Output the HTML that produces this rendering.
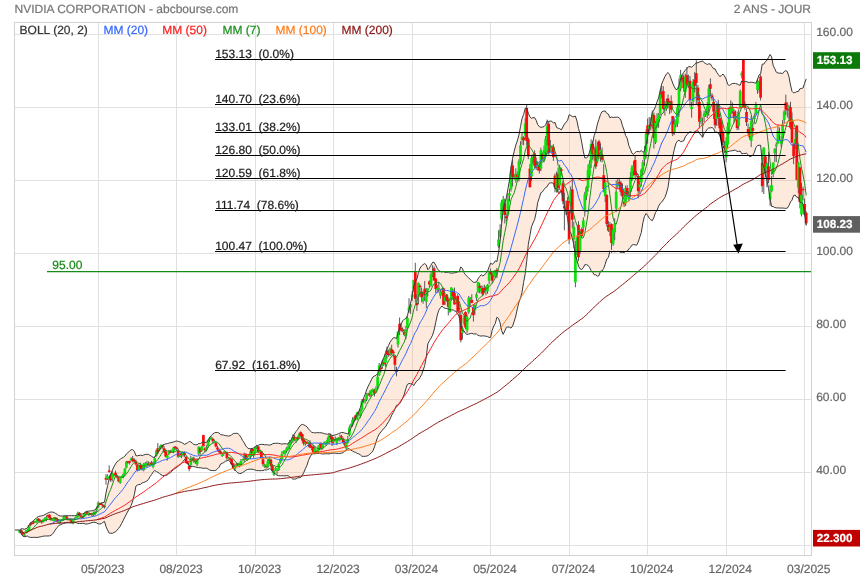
<!DOCTYPE html>
<html><head><meta charset="utf-8"><title>NVIDIA CORPORATION - abcbourse.com</title>
<style>html,body{margin:0;padding:0;background:#fff;overflow:hidden}svg text{stroke-width:0.22px;paint-order:stroke fill}body{width:860px;height:580px}</style>
</head><body>
<svg width="860" height="580" viewBox="0 0 860 580" style="display:block;will-change:transform;text-rendering:geometricPrecision;font-family:'Liberation Sans',sans-serif;font-size:12px">
<rect x="0" y="0" width="860" height="580" fill="#fff"/>
<g stroke="#e0e0e0" stroke-width="1" shape-rendering="crispEdges">
<line x1="15" x2="811" y1="34.5" y2="34.5"/>
<line x1="15" x2="811" y1="107.5" y2="107.5"/>
<line x1="15" x2="811" y1="180.5" y2="180.5"/>
<line x1="15" x2="811" y1="253.5" y2="253.5"/>
<line x1="15" x2="811" y1="326.5" y2="326.5"/>
<line x1="15" x2="811" y1="399.5" y2="399.5"/>
<line x1="15" x2="811" y1="472.5" y2="472.5"/>
<line x1="15" x2="811" y1="545.5" y2="545.5"/>
<line x1="98.5" x2="98.5" y1="23" y2="555"/>
<line x1="176.5" x2="176.5" y1="23" y2="555"/>
<line x1="255.5" x2="255.5" y1="23" y2="555"/>
<line x1="333.5" x2="333.5" y1="23" y2="555"/>
<line x1="412.5" x2="412.5" y1="23" y2="555"/>
<line x1="490.5" x2="490.5" y1="23" y2="555"/>
<line x1="569.5" x2="569.5" y1="23" y2="555"/>
<line x1="647.5" x2="647.5" y1="23" y2="555"/>
<line x1="726.5" x2="726.5" y1="23" y2="555"/>
<line x1="804.5" x2="804.5" y1="23" y2="555"/>
</g>
<rect x="14.5" y="22.5" width="797" height="533" fill="none" stroke="#d2d2d2" stroke-width="1" shape-rendering="crispEdges"/>
<path d="M19.7,530.0 L21.3,528.7 L22.8,528.8 L24.4,529.3 L26.0,528.6 L27.5,528.0 L29.1,524.9 L30.7,523.0 L32.3,521.6 L33.8,520.2 L35.4,519.0 L37.0,517.3 L38.5,516.5 L40.1,516.1 L41.7,515.9 L43.2,515.4 L44.8,514.7 L46.4,513.8 L48.0,513.0 L49.5,512.3 L51.1,512.0 L52.7,512.1 L54.2,512.5 L55.8,513.6 L57.4,514.5 L58.9,515.6 L60.5,515.9 L62.1,516.1 L63.7,516.0 L65.2,515.7 L66.8,515.7 L68.4,515.7 L69.9,515.7 L71.5,515.6 L73.1,515.7 L74.6,515.7 L76.2,515.5 L77.8,514.4 L79.4,514.2 L80.9,514.1 L82.5,514.0 L84.1,513.2 L85.6,512.1 L87.2,511.6 L88.8,511.1 L90.3,510.9 L91.9,510.8 L93.5,510.4 L95.1,509.8 L96.6,508.4 L98.2,505.8 L99.8,504.1 L101.3,502.9 L102.9,502.6 L104.5,502.2 L106.0,493.0 L107.6,485.6 L109.2,478.5 L110.7,474.9 L112.3,470.3 L113.9,466.9 L115.5,463.9 L117.0,461.7 L118.6,460.6 L120.2,459.2 L121.7,458.2 L123.3,457.4 L124.9,456.1 L126.4,454.0 L128.0,452.5 L129.6,451.1 L131.2,449.7 L132.7,449.7 L134.3,451.3 L135.9,455.7 L137.4,455.8 L139.0,455.4 L140.6,455.2 L142.1,455.5 L143.7,455.0 L145.3,454.5 L146.9,454.3 L148.4,454.4 L150.0,455.4 L151.6,456.3 L153.1,457.3 L154.7,457.4 L156.3,454.5 L157.8,452.8 L159.4,450.3 L161.0,447.2 L162.6,445.2 L164.1,444.3 L165.7,444.0 L167.3,443.6 L168.8,443.2 L170.4,442.7 L172.0,442.4 L173.5,442.0 L175.1,441.4 L176.7,441.0 L178.2,441.3 L179.8,441.9 L181.4,442.4 L183.0,443.3 L184.5,444.4 L186.1,443.6 L187.7,442.9 L189.2,441.4 L190.8,441.9 L192.4,443.3 L193.9,444.5 L195.5,444.8 L197.1,444.8 L198.7,443.6 L200.2,443.6 L201.8,442.7 L203.4,442.0 L204.9,442.4 L206.5,442.3 L208.1,440.5 L209.6,437.9 L211.2,435.6 L212.8,434.1 L214.4,432.9 L215.9,432.4 L217.5,432.5 L219.1,433.0 L220.6,434.6 L222.2,434.8 L223.8,435.1 L225.3,435.6 L226.9,435.8 L228.5,436.1 L230.1,435.8 L231.6,434.8 L233.2,433.7 L234.8,433.4 L236.3,433.3 L237.9,433.5 L239.5,435.1 L241.0,437.5 L242.6,440.5 L244.2,442.8 L245.8,445.9 L247.3,447.7 L248.9,448.7 L250.5,448.6 L252.0,448.5 L253.6,448.0 L255.2,446.9 L256.7,445.9 L258.3,445.3 L259.9,444.5 L261.4,444.4 L263.0,444.4 L264.6,444.8 L266.2,444.7 L267.7,444.8 L269.3,445.1 L270.9,444.9 L272.4,443.9 L274.0,443.3 L275.6,443.4 L277.1,443.1 L278.7,443.4 L280.3,443.7 L281.9,444.1 L283.4,443.8 L285.0,443.7 L286.6,443.9 L288.1,443.9 L289.7,441.7 L291.3,439.8 L292.8,436.4 L294.4,434.0 L296.0,431.5 L297.6,429.6 L299.1,427.1 L300.7,425.1 L302.3,424.4 L303.8,424.9 L305.4,425.7 L307.0,426.8 L308.5,428.9 L310.1,430.8 L311.7,432.3 L313.3,432.6 L314.8,432.9 L316.4,432.7 L318.0,432.7 L319.5,432.7 L321.1,432.8 L322.7,433.0 L324.2,433.7 L325.8,433.9 L327.4,434.3 L329.0,433.7 L330.5,434.4 L332.1,435.5 L333.7,435.3 L335.2,434.9 L336.8,434.4 L338.4,433.7 L339.9,433.1 L341.5,432.5 L343.1,432.5 L344.6,433.1 L346.2,433.3 L347.8,434.1 L349.4,431.5 L350.9,428.2 L352.5,424.6 L354.1,421.0 L355.6,418.2 L357.2,414.2 L358.8,411.2 L360.3,407.7 L361.9,402.6 L363.5,398.3 L365.1,394.4 L366.6,390.0 L368.2,386.1 L369.8,383.2 L371.3,379.9 L372.9,377.0 L374.5,376.0 L376.0,375.4 L377.6,373.4 L379.2,369.1 L380.8,365.5 L382.3,360.9 L383.9,357.4 L385.5,352.5 L387.0,348.8 L388.6,345.5 L390.2,341.9 L391.7,339.9 L393.3,337.8 L394.9,337.7 L396.5,338.6 L398.0,332.6 L399.6,327.6 L401.2,323.8 L402.7,320.8 L404.3,319.2 L405.9,318.5 L407.4,315.5 L409.0,309.5 L410.6,303.1 L412.2,295.8 L413.7,285.6 L415.3,281.6 L416.9,279.0 L418.4,272.7 L420.0,268.2 L421.6,265.9 L423.1,264.6 L424.7,263.6 L426.3,264.9 L427.8,269.8 L429.4,268.1 L431.0,265.1 L432.6,262.3 L434.1,262.3 L435.7,265.2 L437.3,268.5 L438.8,270.6 L440.4,271.4 L442.0,272.1 L443.5,271.4 L445.1,272.5 L446.7,272.4 L448.3,272.2 L449.8,273.0 L451.4,273.1 L453.0,273.1 L454.5,272.7 L456.1,272.7 L457.7,271.8 L459.2,271.7 L460.8,266.9 L462.4,268.5 L464.0,272.7 L465.5,274.7 L467.1,276.5 L468.7,277.9 L470.2,279.3 L471.8,280.7 L473.4,282.3 L474.9,282.3 L476.5,281.9 L478.1,278.7 L479.7,276.4 L481.2,274.8 L482.8,275.9 L484.4,275.0 L485.9,273.3 L487.5,271.4 L489.1,266.9 L490.6,263.1 L492.2,264.3 L493.8,263.1 L495.3,260.8 L496.9,261.6 L498.5,252.7 L500.1,241.4 L501.6,224.1 L503.2,209.9 L504.8,203.4 L506.3,198.1 L507.9,189.1 L509.5,179.9 L511.0,167.4 L512.6,158.2 L514.2,151.3 L515.8,145.1 L517.3,140.9 L518.9,135.1 L520.5,126.7 L522.0,118.6 L523.6,114.6 L525.2,108.3 L526.7,107.9 L528.3,113.2 L529.9,116.8 L531.5,118.4 L533.0,117.6 L534.6,117.7 L536.2,120.3 L537.7,124.6 L539.3,126.6 L540.9,127.3 L542.4,127.1 L544.0,126.6 L545.6,124.9 L547.2,120.9 L548.7,121.5 L550.3,121.0 L551.9,121.3 L553.4,123.1 L555.0,122.4 L556.6,127.5 L558.1,128.2 L559.7,128.7 L561.3,129.9 L562.9,127.0 L564.4,124.1 L566.0,122.2 L567.6,120.2 L569.1,114.8 L570.7,115.3 L572.3,116.5 L573.8,116.7 L575.4,116.1 L577.0,121.1 L578.5,128.6 L580.1,134.0 L581.7,142.1 L583.3,151.2 L584.8,157.9 L586.4,157.9 L588.0,156.6 L589.5,152.2 L591.1,146.6 L592.7,143.1 L594.2,135.5 L595.8,131.3 L597.4,124.0 L599.0,119.1 L600.5,114.5 L602.1,111.6 L603.7,111.2 L605.2,110.9 L606.8,113.4 L608.4,114.1 L609.9,117.8 L611.5,116.9 L613.1,117.5 L614.7,117.3 L616.2,117.2 L617.8,117.1 L619.4,118.1 L620.9,120.2 L622.5,125.8 L624.1,130.3 L625.6,135.5 L627.2,138.3 L628.8,145.5 L630.4,149.2 L631.9,153.1 L633.5,154.4 L635.1,152.6 L636.6,151.5 L638.2,151.4 L639.8,151.8 L641.3,150.5 L642.9,152.3 L644.5,151.0 L646.1,144.8 L647.6,137.1 L649.2,128.5 L650.8,121.3 L652.3,112.5 L653.9,110.1 L655.5,106.6 L657.0,101.9 L658.6,98.1 L660.2,90.9 L661.7,83.9 L663.3,80.2 L664.9,76.7 L666.5,73.8 L668.0,72.5 L669.6,74.7 L671.2,78.9 L672.7,83.0 L674.3,86.8 L675.9,89.6 L677.4,89.2 L679.0,85.5 L680.6,78.9 L682.2,74.7 L683.7,72.4 L685.3,70.2 L686.9,68.6 L688.4,66.7 L690.0,66.7 L691.6,67.3 L693.1,65.8 L694.7,64.4 L696.3,62.8 L697.9,62.8 L699.4,62.0 L701.0,61.6 L702.6,60.9 L704.1,62.7 L705.7,63.6 L707.3,64.5 L708.8,63.8 L710.4,64.0 L712.0,66.7 L713.6,68.8 L715.1,68.9 L716.7,72.3 L718.3,74.5 L719.8,76.6 L721.4,75.6 L723.0,74.0 L724.5,76.0 L726.1,79.0 L727.7,84.4 L729.2,85.5 L730.8,84.4 L732.4,83.5 L734.0,83.4 L735.5,83.5 L737.1,84.0 L738.7,84.8 L740.2,85.3 L741.8,80.9 L743.4,82.1 L744.9,81.6 L746.5,81.6 L748.1,82.3 L749.7,82.4 L751.2,82.2 L752.8,82.4 L754.4,82.8 L755.9,83.2 L757.5,79.3 L759.1,74.9 L760.6,73.9 L762.2,64.2 L763.8,64.1 L765.4,61.6 L766.9,60.4 L768.5,57.4 L770.1,54.5 L771.6,56.8 L773.2,65.5 L774.8,68.8 L776.3,72.2 L777.9,73.0 L779.5,73.1 L781.1,73.2 L782.6,73.6 L784.2,71.5 L785.8,70.7 L787.3,71.6 L788.9,76.5 L790.5,85.0 L792.0,91.3 L793.6,92.9 L795.2,92.5 L796.8,91.6 L798.3,91.6 L799.9,88.8 L801.5,88.5 L803.0,88.0 L804.6,83.2 L806.2,78.9 L806.2,225.5 L804.6,213.7 L803.0,203.7 L801.5,202.7 L799.9,202.1 L798.3,197.2 L796.8,197.3 L795.2,195.1 L793.6,195.5 L792.0,200.1 L790.5,201.9 L788.9,205.7 L787.3,208.1 L785.8,208.4 L784.2,208.2 L782.6,208.0 L781.1,208.1 L779.5,208.0 L777.9,207.9 L776.3,207.9 L774.8,207.5 L773.2,206.6 L771.6,206.3 L770.1,199.2 L768.5,188.5 L766.9,180.2 L765.4,174.3 L763.8,167.0 L762.2,162.9 L760.6,145.2 L759.1,145.3 L757.5,145.5 L755.9,147.5 L754.4,152.3 L752.8,155.4 L751.2,156.1 L749.7,156.7 L748.1,154.7 L746.5,153.2 L744.9,153.5 L743.4,153.5 L741.8,153.8 L740.2,151.1 L738.7,151.4 L737.1,151.4 L735.5,150.3 L734.0,150.2 L732.4,150.7 L730.8,150.9 L729.2,151.3 L727.7,151.6 L726.1,152.6 L724.5,150.1 L723.0,145.5 L721.4,140.2 L719.8,135.6 L718.3,133.2 L716.7,132.1 L715.1,132.2 L713.6,128.6 L712.0,127.5 L710.4,127.9 L708.8,127.9 L707.3,129.1 L705.7,131.5 L704.1,133.5 L702.6,137.4 L701.0,135.2 L699.4,133.2 L697.9,130.8 L696.3,130.9 L694.7,131.6 L693.1,132.6 L691.6,132.3 L690.0,131.6 L688.4,133.0 L686.9,134.8 L685.3,136.9 L683.7,140.9 L682.2,141.2 L680.6,141.7 L679.0,140.2 L677.4,141.2 L675.9,143.4 L674.3,149.3 L672.7,156.9 L671.2,164.6 L669.6,176.3 L668.0,187.3 L666.5,193.0 L664.9,197.5 L663.3,199.9 L661.7,202.1 L660.2,203.4 L658.6,206.2 L657.0,210.4 L655.5,212.6 L653.9,217.4 L652.3,220.7 L650.8,219.8 L649.2,218.3 L647.6,215.4 L646.1,213.4 L644.5,216.3 L642.9,222.7 L641.3,232.6 L639.8,237.0 L638.2,242.0 L636.6,245.2 L635.1,244.9 L633.5,244.5 L631.9,245.1 L630.4,247.4 L628.8,249.0 L627.2,251.4 L625.6,251.4 L624.1,252.7 L622.5,252.1 L620.9,252.5 L619.4,251.7 L617.8,251.4 L616.2,251.6 L614.7,251.8 L613.1,251.2 L611.5,252.5 L609.9,250.8 L608.4,257.6 L606.8,258.9 L605.2,264.3 L603.7,268.4 L602.1,271.0 L600.5,271.2 L599.0,275.6 L597.4,276.2 L595.8,274.8 L594.2,274.8 L592.7,272.3 L591.1,270.6 L589.5,267.3 L588.0,265.4 L586.4,264.7 L584.8,264.7 L583.3,267.7 L581.7,269.7 L580.1,268.8 L578.5,266.1 L577.0,260.5 L575.4,255.5 L573.8,244.8 L572.3,238.3 L570.7,232.5 L569.1,230.9 L567.6,218.0 L566.0,211.6 L564.4,205.8 L562.9,197.8 L561.3,190.5 L559.7,193.3 L558.1,192.7 L556.6,188.8 L555.0,188.5 L553.4,183.1 L551.9,182.9 L550.3,182.8 L548.7,183.7 L547.2,186.7 L545.6,187.5 L544.0,189.6 L542.4,191.8 L540.9,192.8 L539.3,197.8 L537.7,202.6 L536.2,212.3 L534.6,219.6 L533.0,223.0 L531.5,226.8 L529.9,235.5 L528.3,244.5 L526.7,261.3 L525.2,273.8 L523.6,282.4 L522.0,292.4 L520.5,298.0 L518.9,302.4 L517.3,308.9 L515.8,315.9 L514.2,321.3 L512.6,326.1 L511.0,328.1 L509.5,327.3 L507.9,326.9 L506.3,327.5 L504.8,330.9 L503.2,334.4 L501.6,330.6 L500.1,322.8 L498.5,318.4 L496.9,317.2 L495.3,323.5 L493.8,326.0 L492.2,330.3 L490.6,337.5 L489.1,337.3 L487.5,336.6 L485.9,336.2 L484.4,336.0 L482.8,335.8 L481.2,336.1 L479.7,335.8 L478.1,335.4 L476.5,334.0 L474.9,333.9 L473.4,333.9 L471.8,333.4 L470.2,333.6 L468.7,334.1 L467.1,334.5 L465.5,333.5 L464.0,330.8 L462.4,330.5 L460.8,326.7 L459.2,316.3 L457.7,314.1 L456.1,311.3 L454.5,310.9 L453.0,309.8 L451.4,309.9 L449.8,309.9 L448.3,308.9 L446.7,308.5 L445.1,308.3 L443.5,307.7 L442.0,306.0 L440.4,307.8 L438.8,310.2 L437.3,315.1 L435.7,322.6 L434.1,330.1 L432.6,335.1 L431.0,338.2 L429.4,340.8 L427.8,343.8 L426.3,357.0 L424.7,365.6 L423.1,370.4 L421.6,374.6 L420.0,377.4 L418.4,379.9 L416.9,380.8 L415.3,383.0 L413.7,385.6 L412.2,383.7 L410.6,383.8 L409.0,383.5 L407.4,384.4 L405.9,388.5 L404.3,394.2 L402.7,398.1 L401.2,401.0 L399.6,403.7 L398.0,405.0 L396.5,405.3 L394.9,409.0 L393.3,412.5 L391.7,415.1 L390.2,418.8 L388.6,421.7 L387.0,424.2 L385.5,426.9 L383.9,428.3 L382.3,430.3 L380.8,432.0 L379.2,434.2 L377.6,437.3 L376.0,441.9 L374.5,446.9 L372.9,450.9 L371.3,452.8 L369.8,454.2 L368.2,455.5 L366.6,456.1 L365.1,456.3 L363.5,456.4 L361.9,456.3 L360.3,454.8 L358.8,453.9 L357.2,453.4 L355.6,452.4 L354.1,452.0 L352.5,451.0 L350.9,450.2 L349.4,449.0 L347.8,448.5 L346.2,450.6 L344.6,451.3 L343.1,452.6 L341.5,453.1 L339.9,453.5 L338.4,453.4 L336.8,453.4 L335.2,453.2 L333.7,453.2 L332.1,453.2 L330.5,453.6 L329.0,453.9 L327.4,453.7 L325.8,453.8 L324.2,453.8 L322.7,454.0 L321.1,453.8 L319.5,453.3 L318.0,453.5 L316.4,453.5 L314.8,453.2 L313.3,453.7 L311.7,454.2 L310.1,456.9 L308.5,460.4 L307.0,465.2 L305.4,468.7 L303.8,472.4 L302.3,475.6 L300.7,477.4 L299.1,477.7 L297.6,477.9 L296.0,478.9 L294.4,479.1 L292.8,479.1 L291.3,477.8 L289.7,476.8 L288.1,475.7 L286.6,475.7 L285.0,475.8 L283.4,475.8 L281.9,475.7 L280.3,475.8 L278.7,475.7 L277.1,475.3 L275.6,474.0 L274.0,472.8 L272.4,471.1 L270.9,469.1 L269.3,468.7 L267.7,469.6 L266.2,470.0 L264.6,469.8 L263.0,470.6 L261.4,470.6 L259.9,470.7 L258.3,470.6 L256.7,470.6 L255.2,470.0 L253.6,469.5 L252.0,469.2 L250.5,469.2 L248.9,469.2 L247.3,469.6 L245.8,470.3 L244.2,471.6 L242.6,472.5 L241.0,473.4 L239.5,473.5 L237.9,472.9 L236.3,471.3 L234.8,469.7 L233.2,467.5 L231.6,464.1 L230.1,461.9 L228.5,460.2 L226.9,460.8 L225.3,461.3 L223.8,462.5 L222.2,463.3 L220.6,464.0 L219.1,467.2 L217.5,468.8 L215.9,470.3 L214.4,470.6 L212.8,470.5 L211.2,470.5 L209.6,469.9 L208.1,469.1 L206.5,468.2 L204.9,468.2 L203.4,468.3 L201.8,468.0 L200.2,467.7 L198.7,467.7 L197.1,467.4 L195.5,467.0 L193.9,466.6 L192.4,466.4 L190.8,466.5 L189.2,466.1 L187.7,462.8 L186.1,460.9 L184.5,459.5 L183.0,461.5 L181.4,463.5 L179.8,464.8 L178.2,466.3 L176.7,467.4 L175.1,468.5 L173.5,469.4 L172.0,471.2 L170.4,472.7 L168.8,473.5 L167.3,474.9 L165.7,475.4 L164.1,475.6 L162.6,475.6 L161.0,474.7 L159.4,473.4 L157.8,472.3 L156.3,471.5 L154.7,470.4 L153.1,472.1 L151.6,474.5 L150.0,476.7 L148.4,479.5 L146.9,480.9 L145.3,481.8 L143.7,482.5 L142.1,482.9 L140.6,484.3 L139.0,484.5 L137.4,485.1 L135.9,486.2 L134.3,494.8 L132.7,500.9 L131.2,505.3 L129.6,508.5 L128.0,511.0 L126.4,514.1 L124.9,517.0 L123.3,520.2 L121.7,523.4 L120.2,526.2 L118.6,528.3 L117.0,530.4 L115.5,531.7 L113.9,532.5 L112.3,533.4 L110.7,533.2 L109.2,533.1 L107.6,530.1 L106.0,526.7 L104.5,521.4 L102.9,522.4 L101.3,523.7 L99.8,524.0 L98.2,523.8 L96.6,522.9 L95.1,522.3 L93.5,522.3 L91.9,522.6 L90.3,523.1 L88.8,523.6 L87.2,524.0 L85.6,524.0 L84.1,523.5 L82.5,523.3 L80.9,523.5 L79.4,523.5 L77.8,523.4 L76.2,522.7 L74.6,522.6 L73.1,522.7 L71.5,523.0 L69.9,522.8 L68.4,522.9 L66.8,522.9 L65.2,523.1 L63.7,523.4 L62.1,524.0 L60.5,524.7 L58.9,525.4 L57.4,527.3 L55.8,529.1 L54.2,531.8 L52.7,533.8 L51.1,535.2 L49.5,535.9 L48.0,535.9 L46.4,536.0 L44.8,536.0 L43.2,536.2 L41.7,536.5 L40.1,536.9 L38.5,537.2 L37.0,537.5 L35.4,537.3 L33.8,537.4 L32.3,537.4 L30.7,537.4 L29.1,537.2 L27.5,536.1 L26.0,536.3 L24.4,536.7 L22.8,536.1 L21.3,534.1 L19.7,530.0Z" fill="rgb(250,170,120)" fill-opacity="0.25" stroke="none"/>
<path d="M19.7,530.0V533.3" stroke="#484848" stroke-width="0.9"/><path d="M19.7,530.0V532.9" stroke="#0ae40a" stroke-width="2.7"/>
<path d="M21.3,529.2V533.3" stroke="#484848" stroke-width="0.9"/><path d="M21.3,530.3V532.7" stroke="#fa0a0a" stroke-width="2.7"/>
<path d="M22.8,531.8V535.4" stroke="#484848" stroke-width="0.9"/><path d="M22.8,532.9V534.5" stroke="#fa0a0a" stroke-width="2.7"/>
<path d="M24.4,532.9V536.9" stroke="#484848" stroke-width="0.9"/><path d="M24.4,534.3V535.7" stroke="#0ae40a" stroke-width="2.7"/>
<path d="M26.0,529.6V533.6" stroke="#484848" stroke-width="0.9"/><path d="M26.0,530.5V532.9" stroke="#0ae40a" stroke-width="2.7"/>
<path d="M27.5,529.2V532.5" stroke="#484848" stroke-width="0.9"/><path d="M27.5,529.9V531.8" stroke="#0ae40a" stroke-width="2.7"/>
<path d="M29.1,524.9V531.1" stroke="#484848" stroke-width="0.9"/><path d="M29.1,525.1V530.7" stroke="#0ae40a" stroke-width="2.7"/>
<path d="M30.7,521.9V526.0" stroke="#484848" stroke-width="0.9"/><path d="M30.7,523.4V524.8" stroke="#fa0a0a" stroke-width="2.7"/>
<path d="M32.3,522.4V524.1" stroke="#484848" stroke-width="0.9"/><path d="M32.3,522.7V524.1" stroke="#fa0a0a" stroke-width="2.7"/>
<path d="M33.8,520.7V524.1" stroke="#484848" stroke-width="0.9"/><path d="M33.8,521.0V522.7" stroke="#fa0a0a" stroke-width="2.7"/>
<path d="M35.4,521.0V522.5" stroke="#484848" stroke-width="0.9"/><path d="M35.4,521.2V522.6" stroke="#0ae40a" stroke-width="2.7"/>
<path d="M37.0,518.6V523.3" stroke="#484848" stroke-width="0.9"/><path d="M37.0,519.1V522.0" stroke="#0ae40a" stroke-width="2.7"/>
<path d="M38.5,518.2V521.5" stroke="#484848" stroke-width="0.9"/><path d="M38.5,518.6V520.6" stroke="#fa0a0a" stroke-width="2.7"/>
<path d="M40.1,519.1V521.9" stroke="#484848" stroke-width="0.9"/><path d="M40.1,520.3V521.7" stroke="#fa0a0a" stroke-width="2.7"/>
<path d="M41.7,519.9V523.8" stroke="#484848" stroke-width="0.9"/><path d="M41.7,521.0V522.4" stroke="#fa0a0a" stroke-width="2.7"/>
<path d="M43.2,518.8V522.6" stroke="#484848" stroke-width="0.9"/><path d="M43.2,519.8V522.1" stroke="#0ae40a" stroke-width="2.7"/>
<path d="M44.8,517.3V521.0" stroke="#484848" stroke-width="0.9"/><path d="M44.8,518.4V520.5" stroke="#0ae40a" stroke-width="2.7"/>
<path d="M46.4,515.7V521.3" stroke="#484848" stroke-width="0.9"/><path d="M46.4,516.9V519.9" stroke="#0ae40a" stroke-width="2.7"/>
<path d="M48.0,514.7V516.9" stroke="#484848" stroke-width="0.9"/><path d="M48.0,515.0V516.4" stroke="#fa0a0a" stroke-width="2.7"/>
<path d="M49.5,514.2V520.0" stroke="#484848" stroke-width="0.9"/><path d="M49.5,514.8V518.1" stroke="#fa0a0a" stroke-width="2.7"/>
<path d="M51.1,517.2V520.6" stroke="#484848" stroke-width="0.9"/><path d="M51.1,517.9V520.2" stroke="#fa0a0a" stroke-width="2.7"/>
<path d="M52.7,519.2V520.7" stroke="#484848" stroke-width="0.9"/><path d="M52.7,519.2V520.6" stroke="#0ae40a" stroke-width="2.7"/>
<path d="M54.2,517.0V522.1" stroke="#484848" stroke-width="0.9"/><path d="M54.2,517.6V520.9" stroke="#0ae40a" stroke-width="2.7"/>
<path d="M55.8,517.2V520.8" stroke="#484848" stroke-width="0.9"/><path d="M55.8,517.7V519.1" stroke="#fa0a0a" stroke-width="2.7"/>
<path d="M57.4,517.8V522.8" stroke="#484848" stroke-width="0.9"/><path d="M57.4,519.2V521.6" stroke="#fa0a0a" stroke-width="2.7"/>
<path d="M58.9,521.2V523.7" stroke="#484848" stroke-width="0.9"/><path d="M58.9,521.5V522.9" stroke="#0ae40a" stroke-width="2.7"/>
<path d="M60.5,520.1V523.3" stroke="#484848" stroke-width="0.9"/><path d="M60.5,520.2V521.6" stroke="#0ae40a" stroke-width="2.7"/>
<path d="M62.1,519.2V521.1" stroke="#484848" stroke-width="0.9"/><path d="M62.1,519.3V520.7" stroke="#0ae40a" stroke-width="2.7"/>
<path d="M63.7,515.7V520.8" stroke="#484848" stroke-width="0.9"/><path d="M63.7,517.3V519.9" stroke="#0ae40a" stroke-width="2.7"/>
<path d="M65.2,515.9V517.6" stroke="#484848" stroke-width="0.9"/><path d="M65.2,515.9V517.3" stroke="#0ae40a" stroke-width="2.7"/>
<path d="M66.8,515.4V520.2" stroke="#484848" stroke-width="0.9"/><path d="M66.8,516.6V519.4" stroke="#fa0a0a" stroke-width="2.7"/>
<path d="M68.4,519.0V520.2" stroke="#484848" stroke-width="0.9"/><path d="M68.4,518.9V520.3" stroke="#0ae40a" stroke-width="2.7"/>
<path d="M69.9,518.8V520.7" stroke="#484848" stroke-width="0.9"/><path d="M69.9,518.7V520.1" stroke="#fa0a0a" stroke-width="2.7"/>
<path d="M71.5,518.8V523.1" stroke="#484848" stroke-width="0.9"/><path d="M71.5,519.3V522.5" stroke="#fa0a0a" stroke-width="2.7"/>
<path d="M73.1,519.3V524.4" stroke="#484848" stroke-width="0.9"/><path d="M73.1,519.9V523.3" stroke="#0ae40a" stroke-width="2.7"/>
<path d="M74.6,517.6V520.1" stroke="#484848" stroke-width="0.9"/><path d="M74.6,518.6V520.0" stroke="#0ae40a" stroke-width="2.7"/>
<path d="M76.2,516.4V518.3" stroke="#484848" stroke-width="0.9"/><path d="M76.2,516.6V518.0" stroke="#0ae40a" stroke-width="2.7"/>
<path d="M77.8,511.6V517.5" stroke="#484848" stroke-width="0.9"/><path d="M77.8,512.8V517.0" stroke="#0ae40a" stroke-width="2.7"/>
<path d="M79.4,512.1V516.4" stroke="#484848" stroke-width="0.9"/><path d="M79.4,512.8V515.3" stroke="#fa0a0a" stroke-width="2.7"/>
<path d="M80.9,514.8V517.1" stroke="#484848" stroke-width="0.9"/><path d="M80.9,515.4V516.8" stroke="#fa0a0a" stroke-width="2.7"/>
<path d="M82.5,515.9V518.2" stroke="#484848" stroke-width="0.9"/><path d="M82.5,516.5V517.9" stroke="#fa0a0a" stroke-width="2.7"/>
<path d="M84.1,512.9V517.3" stroke="#484848" stroke-width="0.9"/><path d="M84.1,513.6V516.7" stroke="#0ae40a" stroke-width="2.7"/>
<path d="M85.6,511.4V515.4" stroke="#484848" stroke-width="0.9"/><path d="M85.6,511.9V514.1" stroke="#0ae40a" stroke-width="2.7"/>
<path d="M87.2,510.5V514.5" stroke="#484848" stroke-width="0.9"/><path d="M87.2,512.2V513.9" stroke="#fa0a0a" stroke-width="2.7"/>
<path d="M88.8,512.2V515.9" stroke="#484848" stroke-width="0.9"/><path d="M88.8,512.9V514.6" stroke="#0ae40a" stroke-width="2.7"/>
<path d="M90.3,513.1V514.9" stroke="#484848" stroke-width="0.9"/><path d="M90.3,513.1V514.5" stroke="#fa0a0a" stroke-width="2.7"/>
<path d="M91.9,512.8V515.8" stroke="#484848" stroke-width="0.9"/><path d="M91.9,513.9V515.3" stroke="#fa0a0a" stroke-width="2.7"/>
<path d="M93.5,511.6V516.4" stroke="#484848" stroke-width="0.9"/><path d="M93.5,512.7V514.9" stroke="#0ae40a" stroke-width="2.7"/>
<path d="M95.1,510.8V515.3" stroke="#484848" stroke-width="0.9"/><path d="M95.1,511.7V514.2" stroke="#0ae40a" stroke-width="2.7"/>
<path d="M96.6,506.4V511.9" stroke="#484848" stroke-width="0.9"/><path d="M96.6,508.1V510.4" stroke="#0ae40a" stroke-width="2.7"/>
<path d="M98.2,501.4V508.1" stroke="#484848" stroke-width="0.9"/><path d="M98.2,502.7V507.3" stroke="#0ae40a" stroke-width="2.7"/>
<path d="M99.8,502.6V504.7" stroke="#484848" stroke-width="0.9"/><path d="M99.8,503.2V504.6" stroke="#fa0a0a" stroke-width="2.7"/>
<path d="M101.3,502.9V505.1" stroke="#484848" stroke-width="0.9"/><path d="M101.3,503.5V504.9" stroke="#fa0a0a" stroke-width="2.7"/>
<path d="M102.9,503.8V507.1" stroke="#484848" stroke-width="0.9"/><path d="M102.9,505.0V506.4" stroke="#fa0a0a" stroke-width="2.7"/>
<path d="M104.5,505.5V508.5" stroke="#484848" stroke-width="0.9"/><path d="M104.5,505.8V507.2" stroke="#fa0a0a" stroke-width="2.7"/>
<path d="M106.0,474.1V484.7" stroke="#484848" stroke-width="0.9"/><path d="M106.0,477.8V479.7" stroke="#fa0a0a" stroke-width="2.7"/>
<path d="M107.6,474.3V480.0" stroke="#484848" stroke-width="0.9"/><path d="M107.6,476.1V478.9" stroke="#0ae40a" stroke-width="2.7"/>
<path d="M109.2,465.4V472.7" stroke="#484848" stroke-width="0.9"/><path d="M109.2,470.5V471.9" stroke="#fa0a0a" stroke-width="2.7"/>
<path d="M110.7,473.2V481.9" stroke="#484848" stroke-width="0.9"/><path d="M110.7,474.7V480.2" stroke="#fa0a0a" stroke-width="2.7"/>
<path d="M112.3,470.6V481.4" stroke="#484848" stroke-width="0.9"/><path d="M112.3,473.1V478.9" stroke="#0ae40a" stroke-width="2.7"/>
<path d="M113.9,473.7V476.4" stroke="#484848" stroke-width="0.9"/><path d="M113.9,474.5V475.9" stroke="#0ae40a" stroke-width="2.7"/>
<path d="M115.5,470.6V476.8" stroke="#484848" stroke-width="0.9"/><path d="M115.5,472.7V475.3" stroke="#fa0a0a" stroke-width="2.7"/>
<path d="M117.0,474.6V478.4" stroke="#484848" stroke-width="0.9"/><path d="M117.0,476.1V477.5" stroke="#fa0a0a" stroke-width="2.7"/>
<path d="M118.6,476.8V482.1" stroke="#484848" stroke-width="0.9"/><path d="M118.6,477.6V481.5" stroke="#fa0a0a" stroke-width="2.7"/>
<path d="M120.2,477.0V483.9" stroke="#484848" stroke-width="0.9"/><path d="M120.2,477.7V483.0" stroke="#0ae40a" stroke-width="2.7"/>
<path d="M121.7,475.8V478.2" stroke="#484848" stroke-width="0.9"/><path d="M121.7,476.6V478.0" stroke="#0ae40a" stroke-width="2.7"/>
<path d="M123.3,473.2V478.4" stroke="#484848" stroke-width="0.9"/><path d="M123.3,474.2V477.0" stroke="#0ae40a" stroke-width="2.7"/>
<path d="M124.9,467.9V474.8" stroke="#484848" stroke-width="0.9"/><path d="M124.9,468.6V474.1" stroke="#0ae40a" stroke-width="2.7"/>
<path d="M126.4,460.9V468.3" stroke="#484848" stroke-width="0.9"/><path d="M126.4,461.4V467.7" stroke="#0ae40a" stroke-width="2.7"/>
<path d="M128.0,460.8V463.7" stroke="#484848" stroke-width="0.9"/><path d="M128.0,461.3V462.7" stroke="#fa0a0a" stroke-width="2.7"/>
<path d="M129.6,460.7V464.6" stroke="#484848" stroke-width="0.9"/><path d="M129.6,461.2V462.6" stroke="#fa0a0a" stroke-width="2.7"/>
<path d="M131.2,457.3V461.0" stroke="#484848" stroke-width="0.9"/><path d="M131.2,458.4V460.2" stroke="#0ae40a" stroke-width="2.7"/>
<path d="M132.7,456.0V462.2" stroke="#484848" stroke-width="0.9"/><path d="M132.7,458.6V461.2" stroke="#fa0a0a" stroke-width="2.7"/>
<path d="M134.3,458.4V462.4" stroke="#484848" stroke-width="0.9"/><path d="M134.3,460.1V461.5" stroke="#fa0a0a" stroke-width="2.7"/>
<path d="M135.9,459.4V465.5" stroke="#484848" stroke-width="0.9"/><path d="M135.9,461.4V464.3" stroke="#fa0a0a" stroke-width="2.7"/>
<path d="M137.4,463.8V471.5" stroke="#484848" stroke-width="0.9"/><path d="M137.4,464.7V470.0" stroke="#fa0a0a" stroke-width="2.7"/>
<path d="M139.0,464.3V471.0" stroke="#484848" stroke-width="0.9"/><path d="M139.0,465.4V470.0" stroke="#0ae40a" stroke-width="2.7"/>
<path d="M140.6,462.7V469.1" stroke="#484848" stroke-width="0.9"/><path d="M140.6,465.0V468.2" stroke="#fa0a0a" stroke-width="2.7"/>
<path d="M142.1,465.7V470.5" stroke="#484848" stroke-width="0.9"/><path d="M142.1,466.3V469.3" stroke="#fa0a0a" stroke-width="2.7"/>
<path d="M143.7,462.9V471.3" stroke="#484848" stroke-width="0.9"/><path d="M143.7,463.9V470.1" stroke="#0ae40a" stroke-width="2.7"/>
<path d="M145.3,462.0V465.9" stroke="#484848" stroke-width="0.9"/><path d="M145.3,463.3V464.7" stroke="#0ae40a" stroke-width="2.7"/>
<path d="M146.9,460.9V466.0" stroke="#484848" stroke-width="0.9"/><path d="M146.9,463.5V464.9" stroke="#0ae40a" stroke-width="2.7"/>
<path d="M148.4,461.3V465.1" stroke="#484848" stroke-width="0.9"/><path d="M148.4,463.6V465.0" stroke="#fa0a0a" stroke-width="2.7"/>
<path d="M150.0,461.9V465.4" stroke="#484848" stroke-width="0.9"/><path d="M150.0,463.2V464.9" stroke="#0ae40a" stroke-width="2.7"/>
<path d="M151.6,460.9V465.1" stroke="#484848" stroke-width="0.9"/><path d="M151.6,462.5V464.3" stroke="#fa0a0a" stroke-width="2.7"/>
<path d="M153.1,461.7V468.3" stroke="#484848" stroke-width="0.9"/><path d="M153.1,463.5V466.8" stroke="#0ae40a" stroke-width="2.7"/>
<path d="M154.7,456.4V464.6" stroke="#484848" stroke-width="0.9"/><path d="M154.7,458.1V464.1" stroke="#0ae40a" stroke-width="2.7"/>
<path d="M156.3,449.7V456.6" stroke="#484848" stroke-width="0.9"/><path d="M156.3,450.5V455.9" stroke="#0ae40a" stroke-width="2.7"/>
<path d="M157.8,443.1V454.1" stroke="#484848" stroke-width="0.9"/><path d="M157.8,448.2V452.3" stroke="#fa0a0a" stroke-width="2.7"/>
<path d="M159.4,446.2V450.9" stroke="#484848" stroke-width="0.9"/><path d="M159.4,448.5V449.9" stroke="#0ae40a" stroke-width="2.7"/>
<path d="M161.0,444.2V449.2" stroke="#484848" stroke-width="0.9"/><path d="M161.0,445.0V448.2" stroke="#0ae40a" stroke-width="2.7"/>
<path d="M162.6,444.8V448.6" stroke="#484848" stroke-width="0.9"/><path d="M162.6,445.2V446.6" stroke="#fa0a0a" stroke-width="2.7"/>
<path d="M164.1,446.1V453.1" stroke="#484848" stroke-width="0.9"/><path d="M164.1,448.3V452.2" stroke="#fa0a0a" stroke-width="2.7"/>
<path d="M165.7,449.4V457.4" stroke="#484848" stroke-width="0.9"/><path d="M165.7,451.4V456.6" stroke="#fa0a0a" stroke-width="2.7"/>
<path d="M167.3,454.3V460.6" stroke="#484848" stroke-width="0.9"/><path d="M167.3,455.5V457.8" stroke="#0ae40a" stroke-width="2.7"/>
<path d="M168.8,450.3V455.1" stroke="#484848" stroke-width="0.9"/><path d="M168.8,451.6V454.4" stroke="#0ae40a" stroke-width="2.7"/>
<path d="M170.4,449.8V453.0" stroke="#484848" stroke-width="0.9"/><path d="M170.4,451.3V452.7" stroke="#fa0a0a" stroke-width="2.7"/>
<path d="M172.0,449.4V452.4" stroke="#484848" stroke-width="0.9"/><path d="M172.0,450.5V451.9" stroke="#0ae40a" stroke-width="2.7"/>
<path d="M173.5,446.9V453.2" stroke="#484848" stroke-width="0.9"/><path d="M173.5,447.7V451.2" stroke="#0ae40a" stroke-width="2.7"/>
<path d="M175.1,445.9V450.0" stroke="#484848" stroke-width="0.9"/><path d="M175.1,446.6V448.0" stroke="#fa0a0a" stroke-width="2.7"/>
<path d="M176.7,447.1V450.5" stroke="#484848" stroke-width="0.9"/><path d="M176.7,447.5V448.9" stroke="#fa0a0a" stroke-width="2.7"/>
<path d="M178.2,448.5V457.9" stroke="#484848" stroke-width="0.9"/><path d="M178.2,450.3V456.7" stroke="#fa0a0a" stroke-width="2.7"/>
<path d="M179.8,454.4V457.2" stroke="#484848" stroke-width="0.9"/><path d="M179.8,455.5V456.9" stroke="#0ae40a" stroke-width="2.7"/>
<path d="M181.4,452.3V458.3" stroke="#484848" stroke-width="0.9"/><path d="M181.4,453.0V455.2" stroke="#fa0a0a" stroke-width="2.7"/>
<path d="M183.0,451.9V456.7" stroke="#484848" stroke-width="0.9"/><path d="M183.0,452.5V455.3" stroke="#0ae40a" stroke-width="2.7"/>
<path d="M184.5,451.7V456.9" stroke="#484848" stroke-width="0.9"/><path d="M184.5,452.9V455.3" stroke="#fa0a0a" stroke-width="2.7"/>
<path d="M186.1,456.1V463.6" stroke="#484848" stroke-width="0.9"/><path d="M186.1,456.8V463.0" stroke="#fa0a0a" stroke-width="2.7"/>
<path d="M187.7,462.2V464.6" stroke="#484848" stroke-width="0.9"/><path d="M187.7,462.4V463.8" stroke="#fa0a0a" stroke-width="2.7"/>
<path d="M189.2,465.0V471.2" stroke="#484848" stroke-width="0.9"/><path d="M189.2,466.1V469.2" stroke="#fa0a0a" stroke-width="2.7"/>
<path d="M190.8,455.7V467.3" stroke="#484848" stroke-width="0.9"/><path d="M190.8,458.6V465.0" stroke="#0ae40a" stroke-width="2.7"/>
<path d="M192.4,457.4V460.5" stroke="#484848" stroke-width="0.9"/><path d="M192.4,457.6V459.0" stroke="#0ae40a" stroke-width="2.7"/>
<path d="M193.9,456.7V463.2" stroke="#484848" stroke-width="0.9"/><path d="M193.9,458.3V459.7" stroke="#fa0a0a" stroke-width="2.7"/>
<path d="M195.5,459.3V463.9" stroke="#484848" stroke-width="0.9"/><path d="M195.5,460.1V462.3" stroke="#0ae40a" stroke-width="2.7"/>
<path d="M197.1,458.1V466.2" stroke="#484848" stroke-width="0.9"/><path d="M197.1,460.3V464.5" stroke="#0ae40a" stroke-width="2.7"/>
<path d="M198.7,446.2V455.2" stroke="#484848" stroke-width="0.9"/><path d="M198.7,446.9V453.7" stroke="#0ae40a" stroke-width="2.7"/>
<path d="M200.2,447.4V454.7" stroke="#484848" stroke-width="0.9"/><path d="M200.2,448.2V451.6" stroke="#fa0a0a" stroke-width="2.7"/>
<path d="M201.8,445.7V452.0" stroke="#484848" stroke-width="0.9"/><path d="M201.8,446.3V450.5" stroke="#0ae40a" stroke-width="2.7"/>
<path d="M203.4,434.8V446.4" stroke="#484848" stroke-width="0.9"/><path d="M203.4,435.1V446.2" stroke="#fa0a0a" stroke-width="2.7"/>
<path d="M204.9,447.3V452.7" stroke="#484848" stroke-width="0.9"/><path d="M204.9,448.3V450.3" stroke="#fa0a0a" stroke-width="2.7"/>
<path d="M206.5,445.2V451.5" stroke="#484848" stroke-width="0.9"/><path d="M206.5,447.3V450.1" stroke="#0ae40a" stroke-width="2.7"/>
<path d="M208.1,439.2V447.7" stroke="#484848" stroke-width="0.9"/><path d="M208.1,440.3V446.2" stroke="#0ae40a" stroke-width="2.7"/>
<path d="M209.6,436.9V442.2" stroke="#484848" stroke-width="0.9"/><path d="M209.6,438.4V439.8" stroke="#0ae40a" stroke-width="2.7"/>
<path d="M211.2,436.5V439.3" stroke="#484848" stroke-width="0.9"/><path d="M211.2,437.7V439.1" stroke="#0ae40a" stroke-width="2.7"/>
<path d="M212.8,437.5V443.5" stroke="#484848" stroke-width="0.9"/><path d="M212.8,438.8V441.2" stroke="#fa0a0a" stroke-width="2.7"/>
<path d="M214.4,439.6V442.4" stroke="#484848" stroke-width="0.9"/><path d="M214.4,440.8V442.2" stroke="#0ae40a" stroke-width="2.7"/>
<path d="M215.9,441.7V447.5" stroke="#484848" stroke-width="0.9"/><path d="M215.9,443.0V446.5" stroke="#fa0a0a" stroke-width="2.7"/>
<path d="M217.5,446.0V451.3" stroke="#484848" stroke-width="0.9"/><path d="M217.5,447.6V449.5" stroke="#fa0a0a" stroke-width="2.7"/>
<path d="M219.1,448.8V452.9" stroke="#484848" stroke-width="0.9"/><path d="M219.1,450.0V452.0" stroke="#fa0a0a" stroke-width="2.7"/>
<path d="M220.6,450.5V454.4" stroke="#484848" stroke-width="0.9"/><path d="M220.6,451.5V453.4" stroke="#fa0a0a" stroke-width="2.7"/>
<path d="M222.2,453.4V457.0" stroke="#484848" stroke-width="0.9"/><path d="M222.2,454.5V456.1" stroke="#0ae40a" stroke-width="2.7"/>
<path d="M223.8,451.3V455.5" stroke="#484848" stroke-width="0.9"/><path d="M223.8,452.1V453.5" stroke="#0ae40a" stroke-width="2.7"/>
<path d="M225.3,451.3V453.9" stroke="#484848" stroke-width="0.9"/><path d="M225.3,451.6V453.0" stroke="#0ae40a" stroke-width="2.7"/>
<path d="M226.9,451.6V459.9" stroke="#484848" stroke-width="0.9"/><path d="M226.9,452.9V458.1" stroke="#fa0a0a" stroke-width="2.7"/>
<path d="M228.5,457.3V459.2" stroke="#484848" stroke-width="0.9"/><path d="M228.5,457.4V458.8" stroke="#0ae40a" stroke-width="2.7"/>
<path d="M230.1,457.0V460.6" stroke="#484848" stroke-width="0.9"/><path d="M230.1,458.3V459.7" stroke="#fa0a0a" stroke-width="2.7"/>
<path d="M231.6,458.5V464.8" stroke="#484848" stroke-width="0.9"/><path d="M231.6,459.1V464.1" stroke="#fa0a0a" stroke-width="2.7"/>
<path d="M233.2,462.8V469.2" stroke="#484848" stroke-width="0.9"/><path d="M233.2,463.4V468.6" stroke="#fa0a0a" stroke-width="2.7"/>
<path d="M234.8,464.7V471.0" stroke="#484848" stroke-width="0.9"/><path d="M234.8,466.4V469.3" stroke="#0ae40a" stroke-width="2.7"/>
<path d="M236.3,462.7V466.9" stroke="#484848" stroke-width="0.9"/><path d="M236.3,464.2V465.8" stroke="#0ae40a" stroke-width="2.7"/>
<path d="M237.9,462.8V466.5" stroke="#484848" stroke-width="0.9"/><path d="M237.9,463.7V465.3" stroke="#fa0a0a" stroke-width="2.7"/>
<path d="M239.5,462.7V467.4" stroke="#484848" stroke-width="0.9"/><path d="M239.5,463.3V466.1" stroke="#0ae40a" stroke-width="2.7"/>
<path d="M241.0,459.0V466.3" stroke="#484848" stroke-width="0.9"/><path d="M241.0,461.0V465.0" stroke="#0ae40a" stroke-width="2.7"/>
<path d="M242.6,458.9V460.5" stroke="#484848" stroke-width="0.9"/><path d="M242.6,459.0V460.4" stroke="#0ae40a" stroke-width="2.7"/>
<path d="M244.2,452.6V461.9" stroke="#484848" stroke-width="0.9"/><path d="M244.2,454.9V459.3" stroke="#0ae40a" stroke-width="2.7"/>
<path d="M245.8,453.3V460.2" stroke="#484848" stroke-width="0.9"/><path d="M245.8,454.2V459.5" stroke="#fa0a0a" stroke-width="2.7"/>
<path d="M247.3,455.6V460.6" stroke="#484848" stroke-width="0.9"/><path d="M247.3,457.6V459.8" stroke="#0ae40a" stroke-width="2.7"/>
<path d="M248.9,454.5V457.1" stroke="#484848" stroke-width="0.9"/><path d="M248.9,455.0V456.4" stroke="#0ae40a" stroke-width="2.7"/>
<path d="M250.5,449.3V459.0" stroke="#484848" stroke-width="0.9"/><path d="M250.5,451.3V456.3" stroke="#0ae40a" stroke-width="2.7"/>
<path d="M252.0,448.1V454.9" stroke="#484848" stroke-width="0.9"/><path d="M252.0,448.9V453.1" stroke="#fa0a0a" stroke-width="2.7"/>
<path d="M253.6,449.1V457.9" stroke="#484848" stroke-width="0.9"/><path d="M253.6,451.1V455.5" stroke="#0ae40a" stroke-width="2.7"/>
<path d="M255.2,446.0V453.1" stroke="#484848" stroke-width="0.9"/><path d="M255.2,447.4V452.3" stroke="#0ae40a" stroke-width="2.7"/>
<path d="M256.7,444.8V448.9" stroke="#484848" stroke-width="0.9"/><path d="M256.7,446.7V448.1" stroke="#0ae40a" stroke-width="2.7"/>
<path d="M258.3,445.9V453.2" stroke="#484848" stroke-width="0.9"/><path d="M258.3,446.6V452.4" stroke="#fa0a0a" stroke-width="2.7"/>
<path d="M259.9,449.3V453.6" stroke="#484848" stroke-width="0.9"/><path d="M259.9,450.0V451.7" stroke="#0ae40a" stroke-width="2.7"/>
<path d="M261.4,451.0V458.8" stroke="#484848" stroke-width="0.9"/><path d="M261.4,451.5V457.9" stroke="#fa0a0a" stroke-width="2.7"/>
<path d="M263.0,457.8V466.3" stroke="#484848" stroke-width="0.9"/><path d="M263.0,459.3V464.3" stroke="#fa0a0a" stroke-width="2.7"/>
<path d="M264.6,463.8V467.8" stroke="#484848" stroke-width="0.9"/><path d="M264.6,464.6V466.9" stroke="#0ae40a" stroke-width="2.7"/>
<path d="M266.2,464.5V468.6" stroke="#484848" stroke-width="0.9"/><path d="M266.2,465.8V467.2" stroke="#fa0a0a" stroke-width="2.7"/>
<path d="M267.7,460.1V468.3" stroke="#484848" stroke-width="0.9"/><path d="M267.7,461.5V467.1" stroke="#0ae40a" stroke-width="2.7"/>
<path d="M269.3,457.2V463.8" stroke="#484848" stroke-width="0.9"/><path d="M269.3,458.9V463.0" stroke="#0ae40a" stroke-width="2.7"/>
<path d="M270.9,458.5V467.7" stroke="#484848" stroke-width="0.9"/><path d="M270.9,459.7V465.8" stroke="#fa0a0a" stroke-width="2.7"/>
<path d="M272.4,464.3V472.7" stroke="#484848" stroke-width="0.9"/><path d="M272.4,465.7V471.1" stroke="#fa0a0a" stroke-width="2.7"/>
<path d="M274.0,469.1V476.0" stroke="#484848" stroke-width="0.9"/><path d="M274.0,470.5V474.9" stroke="#0ae40a" stroke-width="2.7"/>
<path d="M275.6,467.0V470.7" stroke="#484848" stroke-width="0.9"/><path d="M275.6,467.9V469.3" stroke="#0ae40a" stroke-width="2.7"/>
<path d="M277.1,469.0V474.5" stroke="#484848" stroke-width="0.9"/><path d="M277.1,469.4V470.8" stroke="#0ae40a" stroke-width="2.7"/>
<path d="M278.7,462.5V471.0" stroke="#484848" stroke-width="0.9"/><path d="M278.7,463.8V470.0" stroke="#0ae40a" stroke-width="2.7"/>
<path d="M280.3,457.6V463.9" stroke="#484848" stroke-width="0.9"/><path d="M280.3,459.5V462.9" stroke="#0ae40a" stroke-width="2.7"/>
<path d="M281.9,451.4V460.9" stroke="#484848" stroke-width="0.9"/><path d="M281.9,454.1V459.3" stroke="#0ae40a" stroke-width="2.7"/>
<path d="M283.4,450.5V454.0" stroke="#484848" stroke-width="0.9"/><path d="M283.4,451.1V452.5" stroke="#0ae40a" stroke-width="2.7"/>
<path d="M285.0,450.0V455.9" stroke="#484848" stroke-width="0.9"/><path d="M285.0,450.5V454.1" stroke="#0ae40a" stroke-width="2.7"/>
<path d="M286.6,446.9V452.9" stroke="#484848" stroke-width="0.9"/><path d="M286.6,448.3V451.1" stroke="#0ae40a" stroke-width="2.7"/>
<path d="M288.1,444.1V450.6" stroke="#484848" stroke-width="0.9"/><path d="M288.1,446.9V449.7" stroke="#0ae40a" stroke-width="2.7"/>
<path d="M289.7,439.9V449.0" stroke="#484848" stroke-width="0.9"/><path d="M289.7,441.9V446.9" stroke="#0ae40a" stroke-width="2.7"/>
<path d="M291.3,438.9V444.6" stroke="#484848" stroke-width="0.9"/><path d="M291.3,440.8V442.3" stroke="#0ae40a" stroke-width="2.7"/>
<path d="M292.8,434.4V443.1" stroke="#484848" stroke-width="0.9"/><path d="M292.8,437.0V441.3" stroke="#0ae40a" stroke-width="2.7"/>
<path d="M294.4,435.0V441.2" stroke="#484848" stroke-width="0.9"/><path d="M294.4,436.7V439.9" stroke="#fa0a0a" stroke-width="2.7"/>
<path d="M296.0,437.0V443.1" stroke="#484848" stroke-width="0.9"/><path d="M296.0,437.7V440.6" stroke="#0ae40a" stroke-width="2.7"/>
<path d="M297.6,436.3V440.6" stroke="#484848" stroke-width="0.9"/><path d="M297.6,437.4V438.8" stroke="#fa0a0a" stroke-width="2.7"/>
<path d="M299.1,432.9V439.0" stroke="#484848" stroke-width="0.9"/><path d="M299.1,434.3V437.4" stroke="#0ae40a" stroke-width="2.7"/>
<path d="M300.7,431.3V436.7" stroke="#484848" stroke-width="0.9"/><path d="M300.7,432.1V436.0" stroke="#fa0a0a" stroke-width="2.7"/>
<path d="M302.3,433.4V442.4" stroke="#484848" stroke-width="0.9"/><path d="M302.3,434.1V440.5" stroke="#fa0a0a" stroke-width="2.7"/>
<path d="M303.8,438.5V445.7" stroke="#484848" stroke-width="0.9"/><path d="M303.8,439.3V443.9" stroke="#fa0a0a" stroke-width="2.7"/>
<path d="M305.4,440.6V445.5" stroke="#484848" stroke-width="0.9"/><path d="M305.4,442.2V443.6" stroke="#0ae40a" stroke-width="2.7"/>
<path d="M307.0,440.9V444.3" stroke="#484848" stroke-width="0.9"/><path d="M307.0,441.8V443.8" stroke="#fa0a0a" stroke-width="2.7"/>
<path d="M308.5,441.9V447.0" stroke="#484848" stroke-width="0.9"/><path d="M308.5,442.4V443.8" stroke="#0ae40a" stroke-width="2.7"/>
<path d="M310.1,440.3V448.2" stroke="#484848" stroke-width="0.9"/><path d="M310.1,442.7V447.6" stroke="#fa0a0a" stroke-width="2.7"/>
<path d="M311.7,445.3V450.4" stroke="#484848" stroke-width="0.9"/><path d="M311.7,446.3V447.7" stroke="#fa0a0a" stroke-width="2.7"/>
<path d="M313.3,444.7V453.1" stroke="#484848" stroke-width="0.9"/><path d="M313.3,447.0V452.2" stroke="#fa0a0a" stroke-width="2.7"/>
<path d="M314.8,446.3V454.6" stroke="#484848" stroke-width="0.9"/><path d="M314.8,448.3V452.6" stroke="#0ae40a" stroke-width="2.7"/>
<path d="M316.4,450.4V452.8" stroke="#484848" stroke-width="0.9"/><path d="M316.4,451.0V452.4" stroke="#fa0a0a" stroke-width="2.7"/>
<path d="M318.0,445.6V453.5" stroke="#484848" stroke-width="0.9"/><path d="M318.0,448.2V452.5" stroke="#0ae40a" stroke-width="2.7"/>
<path d="M319.5,443.5V449.9" stroke="#484848" stroke-width="0.9"/><path d="M319.5,444.9V448.2" stroke="#0ae40a" stroke-width="2.7"/>
<path d="M321.1,442.4V450.3" stroke="#484848" stroke-width="0.9"/><path d="M321.1,443.4V448.1" stroke="#fa0a0a" stroke-width="2.7"/>
<path d="M322.7,443.8V449.5" stroke="#484848" stroke-width="0.9"/><path d="M322.7,444.3V448.2" stroke="#0ae40a" stroke-width="2.7"/>
<path d="M324.2,441.4V444.5" stroke="#484848" stroke-width="0.9"/><path d="M324.2,442.4V443.8" stroke="#0ae40a" stroke-width="2.7"/>
<path d="M325.8,441.2V445.5" stroke="#484848" stroke-width="0.9"/><path d="M325.8,441.8V443.8" stroke="#0ae40a" stroke-width="2.7"/>
<path d="M327.4,437.4V443.3" stroke="#484848" stroke-width="0.9"/><path d="M327.4,439.9V441.4" stroke="#0ae40a" stroke-width="2.7"/>
<path d="M329.0,433.7V443.4" stroke="#484848" stroke-width="0.9"/><path d="M329.0,435.5V442.1" stroke="#0ae40a" stroke-width="2.7"/>
<path d="M330.5,433.7V439.5" stroke="#484848" stroke-width="0.9"/><path d="M330.5,435.9V437.3" stroke="#fa0a0a" stroke-width="2.7"/>
<path d="M332.1,434.9V445.9" stroke="#484848" stroke-width="0.9"/><path d="M332.1,436.9V442.7" stroke="#fa0a0a" stroke-width="2.7"/>
<path d="M333.7,437.8V443.9" stroke="#484848" stroke-width="0.9"/><path d="M333.7,439.4V441.7" stroke="#0ae40a" stroke-width="2.7"/>
<path d="M335.2,436.4V441.2" stroke="#484848" stroke-width="0.9"/><path d="M335.2,439.0V440.4" stroke="#fa0a0a" stroke-width="2.7"/>
<path d="M336.8,437.8V445.1" stroke="#484848" stroke-width="0.9"/><path d="M336.8,438.4V443.2" stroke="#0ae40a" stroke-width="2.7"/>
<path d="M338.4,437.3V440.8" stroke="#484848" stroke-width="0.9"/><path d="M338.4,437.6V439.0" stroke="#0ae40a" stroke-width="2.7"/>
<path d="M339.9,434.5V441.5" stroke="#484848" stroke-width="0.9"/><path d="M339.9,437.6V440.1" stroke="#0ae40a" stroke-width="2.7"/>
<path d="M341.5,434.7V439.2" stroke="#484848" stroke-width="0.9"/><path d="M341.5,436.3V437.7" stroke="#fa0a0a" stroke-width="2.7"/>
<path d="M343.1,437.4V443.2" stroke="#484848" stroke-width="0.9"/><path d="M343.1,438.6V442.5" stroke="#fa0a0a" stroke-width="2.7"/>
<path d="M344.6,440.4V446.3" stroke="#484848" stroke-width="0.9"/><path d="M344.6,442.0V444.7" stroke="#fa0a0a" stroke-width="2.7"/>
<path d="M346.2,441.8V450.5" stroke="#484848" stroke-width="0.9"/><path d="M346.2,443.1V448.2" stroke="#0ae40a" stroke-width="2.7"/>
<path d="M347.8,435.9V443.6" stroke="#484848" stroke-width="0.9"/><path d="M347.8,439.1V442.9" stroke="#0ae40a" stroke-width="2.7"/>
<path d="M349.4,425.6V436.4" stroke="#484848" stroke-width="0.9"/><path d="M349.4,427.6V435.2" stroke="#0ae40a" stroke-width="2.7"/>
<path d="M350.9,423.4V427.4" stroke="#484848" stroke-width="0.9"/><path d="M350.9,424.3V426.1" stroke="#0ae40a" stroke-width="2.7"/>
<path d="M352.5,417.2V426.7" stroke="#484848" stroke-width="0.9"/><path d="M352.5,419.9V425.2" stroke="#0ae40a" stroke-width="2.7"/>
<path d="M354.1,416.4V422.4" stroke="#484848" stroke-width="0.9"/><path d="M354.1,418.2V420.8" stroke="#0ae40a" stroke-width="2.7"/>
<path d="M355.6,414.6V420.3" stroke="#484848" stroke-width="0.9"/><path d="M355.6,415.3V418.6" stroke="#fa0a0a" stroke-width="2.7"/>
<path d="M357.2,411.6V420.2" stroke="#484848" stroke-width="0.9"/><path d="M357.2,412.5V419.2" stroke="#0ae40a" stroke-width="2.7"/>
<path d="M358.8,412.0V415.6" stroke="#484848" stroke-width="0.9"/><path d="M358.8,412.5V413.9" stroke="#fa0a0a" stroke-width="2.7"/>
<path d="M360.3,408.9V418.2" stroke="#484848" stroke-width="0.9"/><path d="M360.3,409.8V416.2" stroke="#0ae40a" stroke-width="2.7"/>
<path d="M361.9,399.2V411.3" stroke="#484848" stroke-width="0.9"/><path d="M361.9,401.2V409.7" stroke="#0ae40a" stroke-width="2.7"/>
<path d="M363.5,398.8V402.8" stroke="#484848" stroke-width="0.9"/><path d="M363.5,399.3V400.7" stroke="#fa0a0a" stroke-width="2.7"/>
<path d="M365.1,398.4V403.9" stroke="#484848" stroke-width="0.9"/><path d="M365.1,399.8V401.6" stroke="#0ae40a" stroke-width="2.7"/>
<path d="M366.6,393.1V401.2" stroke="#484848" stroke-width="0.9"/><path d="M366.6,394.3V399.7" stroke="#0ae40a" stroke-width="2.7"/>
<path d="M368.2,392.7V395.8" stroke="#484848" stroke-width="0.9"/><path d="M368.2,393.4V394.8" stroke="#0ae40a" stroke-width="2.7"/>
<path d="M369.8,390.5V396.9" stroke="#484848" stroke-width="0.9"/><path d="M369.8,393.5V395.5" stroke="#fa0a0a" stroke-width="2.7"/>
<path d="M371.3,389.5V397.1" stroke="#484848" stroke-width="0.9"/><path d="M371.3,390.3V395.1" stroke="#0ae40a" stroke-width="2.7"/>
<path d="M372.9,388.3V392.1" stroke="#484848" stroke-width="0.9"/><path d="M372.9,389.2V391.2" stroke="#0ae40a" stroke-width="2.7"/>
<path d="M374.5,388.9V396.4" stroke="#484848" stroke-width="0.9"/><path d="M374.5,390.1V393.7" stroke="#fa0a0a" stroke-width="2.7"/>
<path d="M376.0,386.2V393.3" stroke="#484848" stroke-width="0.9"/><path d="M376.0,388.2V392.4" stroke="#0ae40a" stroke-width="2.7"/>
<path d="M377.6,374.1V389.5" stroke="#484848" stroke-width="0.9"/><path d="M377.6,376.8V386.5" stroke="#0ae40a" stroke-width="2.7"/>
<path d="M379.2,363.0V376.1" stroke="#484848" stroke-width="0.9"/><path d="M379.2,365.2V375.4" stroke="#0ae40a" stroke-width="2.7"/>
<path d="M380.8,364.2V372.5" stroke="#484848" stroke-width="0.9"/><path d="M380.8,367.4V369.3" stroke="#fa0a0a" stroke-width="2.7"/>
<path d="M382.3,359.9V368.7" stroke="#484848" stroke-width="0.9"/><path d="M382.3,362.4V366.0" stroke="#0ae40a" stroke-width="2.7"/>
<path d="M383.9,358.7V365.6" stroke="#484848" stroke-width="0.9"/><path d="M383.9,362.4V364.1" stroke="#fa0a0a" stroke-width="2.7"/>
<path d="M385.5,354.2V366.6" stroke="#484848" stroke-width="0.9"/><path d="M385.5,355.0V362.9" stroke="#0ae40a" stroke-width="2.7"/>
<path d="M387.0,346.6V358.7" stroke="#484848" stroke-width="0.9"/><path d="M387.0,350.5V354.6" stroke="#fa0a0a" stroke-width="2.7"/>
<path d="M388.6,349.7V356.7" stroke="#484848" stroke-width="0.9"/><path d="M388.6,353.3V355.0" stroke="#fa0a0a" stroke-width="2.7"/>
<path d="M390.2,347.6V356.0" stroke="#484848" stroke-width="0.9"/><path d="M390.2,348.6V353.9" stroke="#0ae40a" stroke-width="2.7"/>
<path d="M391.7,344.7V355.2" stroke="#484848" stroke-width="0.9"/><path d="M391.7,349.3V353.1" stroke="#fa0a0a" stroke-width="2.7"/>
<path d="M393.3,350.0V357.6" stroke="#484848" stroke-width="0.9"/><path d="M393.3,351.6V353.3" stroke="#fa0a0a" stroke-width="2.7"/>
<path d="M394.9,355.5V371.2" stroke="#484848" stroke-width="0.9"/><path d="M394.9,355.9V364.8" stroke="#fa0a0a" stroke-width="2.7"/>
<path d="M396.5,366.8V376.3" stroke="#484848" stroke-width="0.9"/><path d="M396.5,370.1V372.0" stroke="#fa0a0a" stroke-width="2.7"/>
<path d="M398.0,331.4V347.5" stroke="#484848" stroke-width="0.9"/><path d="M398.0,331.6V344.6" stroke="#0ae40a" stroke-width="2.7"/>
<path d="M399.6,317.5V335.1" stroke="#484848" stroke-width="0.9"/><path d="M399.6,323.7V330.6" stroke="#fa0a0a" stroke-width="2.7"/>
<path d="M401.2,322.9V331.7" stroke="#484848" stroke-width="0.9"/><path d="M401.2,327.9V329.6" stroke="#fa0a0a" stroke-width="2.7"/>
<path d="M402.7,327.4V332.3" stroke="#484848" stroke-width="0.9"/><path d="M402.7,329.6V331.0" stroke="#fa0a0a" stroke-width="2.7"/>
<path d="M404.3,329.2V336.3" stroke="#484848" stroke-width="0.9"/><path d="M404.3,331.8V334.8" stroke="#fa0a0a" stroke-width="2.7"/>
<path d="M405.9,325.9V339.3" stroke="#484848" stroke-width="0.9"/><path d="M405.9,329.5V336.1" stroke="#0ae40a" stroke-width="2.7"/>
<path d="M407.4,316.1V329.4" stroke="#484848" stroke-width="0.9"/><path d="M407.4,318.0V327.9" stroke="#0ae40a" stroke-width="2.7"/>
<path d="M409.0,298.2V312.8" stroke="#484848" stroke-width="0.9"/><path d="M409.0,307.2V311.3" stroke="#0ae40a" stroke-width="2.7"/>
<path d="M410.6,304.0V313.9" stroke="#484848" stroke-width="0.9"/><path d="M410.6,304.5V307.0" stroke="#0ae40a" stroke-width="2.7"/>
<path d="M412.2,290.9V300.8" stroke="#484848" stroke-width="0.9"/><path d="M412.2,294.5V297.1" stroke="#0ae40a" stroke-width="2.7"/>
<path d="M413.7,279.7V291.3" stroke="#484848" stroke-width="0.9"/><path d="M413.7,280.1V289.1" stroke="#0ae40a" stroke-width="2.7"/>
<path d="M415.3,262.8V302.6" stroke="#484848" stroke-width="0.9"/><path d="M415.3,271.2V298.8" stroke="#fa0a0a" stroke-width="2.7"/>
<path d="M416.9,294.2V311.0" stroke="#484848" stroke-width="0.9"/><path d="M416.9,302.9V305.2" stroke="#fa0a0a" stroke-width="2.7"/>
<path d="M418.4,282.6V304.0" stroke="#484848" stroke-width="0.9"/><path d="M418.4,282.8V297.1" stroke="#0ae40a" stroke-width="2.7"/>
<path d="M420.0,284.3V295.6" stroke="#484848" stroke-width="0.9"/><path d="M420.0,285.7V287.1" stroke="#fa0a0a" stroke-width="2.7"/>
<path d="M421.6,287.6V302.2" stroke="#484848" stroke-width="0.9"/><path d="M421.6,291.6V297.3" stroke="#fa0a0a" stroke-width="2.7"/>
<path d="M423.1,291.6V303.7" stroke="#484848" stroke-width="0.9"/><path d="M423.1,297.7V301.1" stroke="#0ae40a" stroke-width="2.7"/>
<path d="M424.7,281.0V300.8" stroke="#484848" stroke-width="0.9"/><path d="M424.7,288.7V295.5" stroke="#fa0a0a" stroke-width="2.7"/>
<path d="M426.3,288.0V308.1" stroke="#484848" stroke-width="0.9"/><path d="M426.3,292.0V301.8" stroke="#0ae40a" stroke-width="2.7"/>
<path d="M427.8,288.3V296.4" stroke="#484848" stroke-width="0.9"/><path d="M427.8,288.4V290.5" stroke="#0ae40a" stroke-width="2.7"/>
<path d="M429.4,280.3V288.3" stroke="#484848" stroke-width="0.9"/><path d="M429.4,281.4V284.6" stroke="#fa0a0a" stroke-width="2.7"/>
<path d="M431.0,272.4V286.9" stroke="#484848" stroke-width="0.9"/><path d="M431.0,274.1V285.8" stroke="#0ae40a" stroke-width="2.7"/>
<path d="M432.6,265.1V277.0" stroke="#484848" stroke-width="0.9"/><path d="M432.6,271.6V275.6" stroke="#0ae40a" stroke-width="2.7"/>
<path d="M434.1,266.5V280.7" stroke="#484848" stroke-width="0.9"/><path d="M434.1,268.4V280.5" stroke="#fa0a0a" stroke-width="2.7"/>
<path d="M435.7,278.1V293.1" stroke="#484848" stroke-width="0.9"/><path d="M435.7,278.5V288.9" stroke="#fa0a0a" stroke-width="2.7"/>
<path d="M437.3,285.1V292.7" stroke="#484848" stroke-width="0.9"/><path d="M437.3,288.4V289.8" stroke="#0ae40a" stroke-width="2.7"/>
<path d="M438.8,281.8V292.7" stroke="#484848" stroke-width="0.9"/><path d="M438.8,287.9V289.3" stroke="#0ae40a" stroke-width="2.7"/>
<path d="M440.4,289.4V298.6" stroke="#484848" stroke-width="0.9"/><path d="M440.4,291.8V295.6" stroke="#0ae40a" stroke-width="2.7"/>
<path d="M442.0,288.3V295.6" stroke="#484848" stroke-width="0.9"/><path d="M442.0,293.6V295.3" stroke="#0ae40a" stroke-width="2.7"/>
<path d="M443.5,287.6V304.8" stroke="#484848" stroke-width="0.9"/><path d="M443.5,288.3V304.8" stroke="#fa0a0a" stroke-width="2.7"/>
<path d="M445.1,295.3V304.8" stroke="#484848" stroke-width="0.9"/><path d="M445.1,297.1V301.1" stroke="#0ae40a" stroke-width="2.7"/>
<path d="M446.7,294.2V301.8" stroke="#484848" stroke-width="0.9"/><path d="M446.7,294.5V300.3" stroke="#fa0a0a" stroke-width="2.7"/>
<path d="M448.3,298.6V315.4" stroke="#484848" stroke-width="0.9"/><path d="M448.3,299.3V306.8" stroke="#fa0a0a" stroke-width="2.7"/>
<path d="M449.8,299.3V312.8" stroke="#484848" stroke-width="0.9"/><path d="M449.8,300.6V312.1" stroke="#0ae40a" stroke-width="2.7"/>
<path d="M451.4,287.2V301.1" stroke="#484848" stroke-width="0.9"/><path d="M451.4,287.5V299.3" stroke="#0ae40a" stroke-width="2.7"/>
<path d="M453.0,289.1V298.9" stroke="#484848" stroke-width="0.9"/><path d="M453.0,290.9V296.4" stroke="#fa0a0a" stroke-width="2.7"/>
<path d="M454.5,287.6V304.8" stroke="#484848" stroke-width="0.9"/><path d="M454.5,293.1V304.4" stroke="#fa0a0a" stroke-width="2.7"/>
<path d="M456.1,296.7V304.0" stroke="#484848" stroke-width="0.9"/><path d="M456.1,299.2V302.9" stroke="#0ae40a" stroke-width="2.7"/>
<path d="M457.7,294.2V312.1" stroke="#484848" stroke-width="0.9"/><path d="M457.7,296.0V311.6" stroke="#fa0a0a" stroke-width="2.7"/>
<path d="M459.2,303.7V317.5" stroke="#484848" stroke-width="0.9"/><path d="M459.2,308.0V309.4" stroke="#fa0a0a" stroke-width="2.7"/>
<path d="M460.8,310.6V342.4" stroke="#484848" stroke-width="0.9"/><path d="M460.8,315.0V340.2" stroke="#fa0a0a" stroke-width="2.7"/>
<path d="M462.4,325.9V339.4" stroke="#484848" stroke-width="0.9"/><path d="M462.4,328.1V333.2" stroke="#0ae40a" stroke-width="2.7"/>
<path d="M464.0,316.1V325.2" stroke="#484848" stroke-width="0.9"/><path d="M464.0,317.5V323.4" stroke="#0ae40a" stroke-width="2.7"/>
<path d="M465.5,311.3V329.2" stroke="#484848" stroke-width="0.9"/><path d="M465.5,312.1V327.5" stroke="#fa0a0a" stroke-width="2.7"/>
<path d="M467.1,314.3V332.9" stroke="#484848" stroke-width="0.9"/><path d="M467.1,316.7V330.3" stroke="#0ae40a" stroke-width="2.7"/>
<path d="M468.7,296.0V313.9" stroke="#484848" stroke-width="0.9"/><path d="M468.7,298.0V312.4" stroke="#0ae40a" stroke-width="2.7"/>
<path d="M470.2,297.1V307.0" stroke="#484848" stroke-width="0.9"/><path d="M470.2,297.6V299.0" stroke="#0ae40a" stroke-width="2.7"/>
<path d="M471.8,294.2V303.3" stroke="#484848" stroke-width="0.9"/><path d="M471.8,300.0V302.9" stroke="#fa0a0a" stroke-width="2.7"/>
<path d="M473.4,304.4V321.6" stroke="#484848" stroke-width="0.9"/><path d="M473.4,307.7V315.2" stroke="#fa0a0a" stroke-width="2.7"/>
<path d="M474.9,303.7V314.6" stroke="#484848" stroke-width="0.9"/><path d="M474.9,305.1V310.2" stroke="#0ae40a" stroke-width="2.7"/>
<path d="M476.5,292.4V300.8" stroke="#484848" stroke-width="0.9"/><path d="M476.5,294.2V297.8" stroke="#0ae40a" stroke-width="2.7"/>
<path d="M478.1,281.8V293.1" stroke="#484848" stroke-width="0.9"/><path d="M478.1,282.0V292.0" stroke="#0ae40a" stroke-width="2.7"/>
<path d="M479.7,283.2V293.4" stroke="#484848" stroke-width="0.9"/><path d="M479.7,285.8V287.8" stroke="#fa0a0a" stroke-width="2.7"/>
<path d="M481.2,285.4V293.4" stroke="#484848" stroke-width="0.9"/><path d="M481.2,288.3V291.6" stroke="#0ae40a" stroke-width="2.7"/>
<path d="M482.8,285.8V296.4" stroke="#484848" stroke-width="0.9"/><path d="M482.8,288.0V294.4" stroke="#fa0a0a" stroke-width="2.7"/>
<path d="M484.4,284.7V292.7" stroke="#484848" stroke-width="0.9"/><path d="M484.4,288.7V290.2" stroke="#fa0a0a" stroke-width="2.7"/>
<path d="M485.9,286.1V295.3" stroke="#484848" stroke-width="0.9"/><path d="M485.9,287.5V288.9" stroke="#fa0a0a" stroke-width="2.7"/>
<path d="M487.5,284.0V293.8" stroke="#484848" stroke-width="0.9"/><path d="M487.5,284.8V291.3" stroke="#0ae40a" stroke-width="2.7"/>
<path d="M489.1,271.9V284.3" stroke="#484848" stroke-width="0.9"/><path d="M489.1,272.9V280.7" stroke="#0ae40a" stroke-width="2.7"/>
<path d="M490.6,268.6V274.8" stroke="#484848" stroke-width="0.9"/><path d="M490.6,271.6V273.9" stroke="#fa0a0a" stroke-width="2.7"/>
<path d="M492.2,272.3V283.2" stroke="#484848" stroke-width="0.9"/><path d="M492.2,273.7V280.7" stroke="#fa0a0a" stroke-width="2.7"/>
<path d="M493.8,270.8V277.4" stroke="#484848" stroke-width="0.9"/><path d="M493.8,272.4V275.9" stroke="#0ae40a" stroke-width="2.7"/>
<path d="M495.3,270.1V278.1" stroke="#484848" stroke-width="0.9"/><path d="M495.3,270.1V276.7" stroke="#0ae40a" stroke-width="2.7"/>
<path d="M496.9,267.9V278.1" stroke="#484848" stroke-width="0.9"/><path d="M496.9,269.7V271.7" stroke="#fa0a0a" stroke-width="2.7"/>
<path d="M498.5,230.3V247.8" stroke="#484848" stroke-width="0.9"/><path d="M498.5,239.4V246.0" stroke="#0ae40a" stroke-width="2.7"/>
<path d="M500.1,224.2V238.7" stroke="#484848" stroke-width="0.9"/><path d="M500.1,229.7V236.9" stroke="#0ae40a" stroke-width="2.7"/>
<path d="M501.6,200.2V222.4" stroke="#484848" stroke-width="0.9"/><path d="M501.6,202.6V219.2" stroke="#0ae40a" stroke-width="2.7"/>
<path d="M503.2,195.9V211.2" stroke="#484848" stroke-width="0.9"/><path d="M503.2,199.2V205.4" stroke="#0ae40a" stroke-width="2.7"/>
<path d="M504.8,198.5V223.5" stroke="#484848" stroke-width="0.9"/><path d="M504.8,203.2V215.0" stroke="#fa0a0a" stroke-width="2.7"/>
<path d="M506.3,213.6V221.5" stroke="#484848" stroke-width="0.9"/><path d="M506.3,216.3V218.2" stroke="#fa0a0a" stroke-width="2.7"/>
<path d="M507.9,192.9V216.5" stroke="#484848" stroke-width="0.9"/><path d="M507.9,198.6V214.4" stroke="#0ae40a" stroke-width="2.7"/>
<path d="M509.5,188.8V201.5" stroke="#484848" stroke-width="0.9"/><path d="M509.5,193.3V195.7" stroke="#0ae40a" stroke-width="2.7"/>
<path d="M511.0,166.2V191.6" stroke="#484848" stroke-width="0.9"/><path d="M511.0,171.4V189.3" stroke="#0ae40a" stroke-width="2.7"/>
<path d="M512.6,159.9V186.5" stroke="#484848" stroke-width="0.9"/><path d="M512.6,165.5V176.7" stroke="#fa0a0a" stroke-width="2.7"/>
<path d="M514.2,173.9V179.5" stroke="#484848" stroke-width="0.9"/><path d="M514.2,175.7V177.1" stroke="#fa0a0a" stroke-width="2.7"/>
<path d="M515.8,168.3V182.7" stroke="#484848" stroke-width="0.9"/><path d="M515.8,173.8V180.4" stroke="#0ae40a" stroke-width="2.7"/>
<path d="M517.3,171.5V179.3" stroke="#484848" stroke-width="0.9"/><path d="M517.3,174.8V177.0" stroke="#fa0a0a" stroke-width="2.7"/>
<path d="M518.9,159.3V181.5" stroke="#484848" stroke-width="0.9"/><path d="M518.9,161.3V179.6" stroke="#0ae40a" stroke-width="2.7"/>
<path d="M520.5,141.3V164.3" stroke="#484848" stroke-width="0.9"/><path d="M520.5,145.2V161.9" stroke="#0ae40a" stroke-width="2.7"/>
<path d="M522.0,132.4V144.8" stroke="#484848" stroke-width="0.9"/><path d="M522.0,136.9V140.3" stroke="#0ae40a" stroke-width="2.7"/>
<path d="M523.6,136.1V145.2" stroke="#484848" stroke-width="0.9"/><path d="M523.6,137.6V140.2" stroke="#fa0a0a" stroke-width="2.7"/>
<path d="M525.2,118.1V139.5" stroke="#484848" stroke-width="0.9"/><path d="M525.2,123.4V135.5" stroke="#0ae40a" stroke-width="2.7"/>
<path d="M526.7,104.5V145.6" stroke="#484848" stroke-width="0.9"/><path d="M526.7,108.0V141.0" stroke="#fa0a0a" stroke-width="2.7"/>
<path d="M528.3,137.3V159.2" stroke="#484848" stroke-width="0.9"/><path d="M528.3,139.1V156.3" stroke="#fa0a0a" stroke-width="2.7"/>
<path d="M529.9,163.9V187.6" stroke="#484848" stroke-width="0.9"/><path d="M529.9,168.6V187.2" stroke="#fa0a0a" stroke-width="2.7"/>
<path d="M531.5,154.7V181.1" stroke="#484848" stroke-width="0.9"/><path d="M531.5,158.1V176.5" stroke="#0ae40a" stroke-width="2.7"/>
<path d="M533.0,154.0V163.7" stroke="#484848" stroke-width="0.9"/><path d="M533.0,156.9V159.3" stroke="#0ae40a" stroke-width="2.7"/>
<path d="M534.6,150.4V168.3" stroke="#484848" stroke-width="0.9"/><path d="M534.6,153.3V165.7" stroke="#fa0a0a" stroke-width="2.7"/>
<path d="M536.2,157.6V170.0" stroke="#484848" stroke-width="0.9"/><path d="M536.2,162.6V167.4" stroke="#fa0a0a" stroke-width="2.7"/>
<path d="M537.7,161.2V170.6" stroke="#484848" stroke-width="0.9"/><path d="M537.7,164.6V167.1" stroke="#0ae40a" stroke-width="2.7"/>
<path d="M539.3,162.4V173.6" stroke="#484848" stroke-width="0.9"/><path d="M539.3,166.2V170.6" stroke="#fa0a0a" stroke-width="2.7"/>
<path d="M540.9,147.6V171.1" stroke="#484848" stroke-width="0.9"/><path d="M540.9,150.1V168.7" stroke="#0ae40a" stroke-width="2.7"/>
<path d="M542.4,152.5V160.9" stroke="#484848" stroke-width="0.9"/><path d="M542.4,154.0V159.0" stroke="#fa0a0a" stroke-width="2.7"/>
<path d="M544.0,145.7V162.4" stroke="#484848" stroke-width="0.9"/><path d="M544.0,150.4V160.5" stroke="#0ae40a" stroke-width="2.7"/>
<path d="M545.6,136.0V156.8" stroke="#484848" stroke-width="0.9"/><path d="M545.6,138.8V151.8" stroke="#0ae40a" stroke-width="2.7"/>
<path d="M547.2,119.6V145.4" stroke="#484848" stroke-width="0.9"/><path d="M547.2,125.9V138.4" stroke="#0ae40a" stroke-width="2.7"/>
<path d="M548.7,121.5V154.8" stroke="#484848" stroke-width="0.9"/><path d="M548.7,123.7V153.3" stroke="#fa0a0a" stroke-width="2.7"/>
<path d="M550.3,139.8V152.6" stroke="#484848" stroke-width="0.9"/><path d="M550.3,146.6V148.0" stroke="#0ae40a" stroke-width="2.7"/>
<path d="M551.9,145.9V154.1" stroke="#484848" stroke-width="0.9"/><path d="M551.9,149.5V152.6" stroke="#0ae40a" stroke-width="2.7"/>
<path d="M553.4,144.2V160.9" stroke="#484848" stroke-width="0.9"/><path d="M553.4,147.2V157.1" stroke="#fa0a0a" stroke-width="2.7"/>
<path d="M555.0,173.4V192.3" stroke="#484848" stroke-width="0.9"/><path d="M555.0,175.6V187.6" stroke="#fa0a0a" stroke-width="2.7"/>
<path d="M556.6,171.5V192.6" stroke="#484848" stroke-width="0.9"/><path d="M556.6,176.3V191.0" stroke="#0ae40a" stroke-width="2.7"/>
<path d="M558.1,167.5V191.8" stroke="#484848" stroke-width="0.9"/><path d="M558.1,173.4V187.9" stroke="#fa0a0a" stroke-width="2.7"/>
<path d="M559.7,164.7V190.0" stroke="#484848" stroke-width="0.9"/><path d="M559.7,167.4V185.4" stroke="#0ae40a" stroke-width="2.7"/>
<path d="M561.3,167.6V175.6" stroke="#484848" stroke-width="0.9"/><path d="M561.3,169.3V170.8" stroke="#fa0a0a" stroke-width="2.7"/>
<path d="M562.9,180.7V204.4" stroke="#484848" stroke-width="0.9"/><path d="M562.9,183.2V201.3" stroke="#fa0a0a" stroke-width="2.7"/>
<path d="M564.4,192.7V230.3" stroke="#484848" stroke-width="0.9"/><path d="M564.4,205.8V208.5" stroke="#fa0a0a" stroke-width="2.7"/>
<path d="M566.0,200.5V214.9" stroke="#484848" stroke-width="0.9"/><path d="M566.0,205.6V208.0" stroke="#0ae40a" stroke-width="2.7"/>
<path d="M567.6,197.1V214.8" stroke="#484848" stroke-width="0.9"/><path d="M567.6,200.9V211.0" stroke="#fa0a0a" stroke-width="2.7"/>
<path d="M569.1,209.9V244.2" stroke="#484848" stroke-width="0.9"/><path d="M569.1,211.3V239.7" stroke="#fa0a0a" stroke-width="2.7"/>
<path d="M570.7,186.5V213.5" stroke="#484848" stroke-width="0.9"/><path d="M570.7,191.2V206.2" stroke="#0ae40a" stroke-width="2.7"/>
<path d="M572.3,179.6V228.5" stroke="#484848" stroke-width="0.9"/><path d="M572.3,189.4V219.7" stroke="#fa0a0a" stroke-width="2.7"/>
<path d="M573.8,221.5V248.2" stroke="#484848" stroke-width="0.9"/><path d="M573.8,226.8V239.4" stroke="#0ae40a" stroke-width="2.7"/>
<path d="M575.4,240.9V287.3" stroke="#484848" stroke-width="0.9"/><path d="M575.4,251.7V282.3" stroke="#0ae40a" stroke-width="2.7"/>
<path d="M577.0,235.5V255.0" stroke="#484848" stroke-width="0.9"/><path d="M577.0,237.8V252.7" stroke="#0ae40a" stroke-width="2.7"/>
<path d="M578.5,221.2V261.0" stroke="#484848" stroke-width="0.9"/><path d="M578.5,224.8V257.3" stroke="#fa0a0a" stroke-width="2.7"/>
<path d="M580.1,231.7V253.7" stroke="#484848" stroke-width="0.9"/><path d="M580.1,235.2V250.5" stroke="#0ae40a" stroke-width="2.7"/>
<path d="M581.7,227.3V237.7" stroke="#484848" stroke-width="0.9"/><path d="M581.7,229.1V236.0" stroke="#fa0a0a" stroke-width="2.7"/>
<path d="M583.3,217.4V232.4" stroke="#484848" stroke-width="0.9"/><path d="M583.3,220.4V227.5" stroke="#0ae40a" stroke-width="2.7"/>
<path d="M584.8,191.8V216.6" stroke="#484848" stroke-width="0.9"/><path d="M584.8,194.4V211.3" stroke="#0ae40a" stroke-width="2.7"/>
<path d="M586.4,185.8V200.2" stroke="#484848" stroke-width="0.9"/><path d="M586.4,187.3V196.4" stroke="#0ae40a" stroke-width="2.7"/>
<path d="M588.0,164.6V191.7" stroke="#484848" stroke-width="0.9"/><path d="M588.0,169.9V187.8" stroke="#0ae40a" stroke-width="2.7"/>
<path d="M589.5,160.3V177.9" stroke="#484848" stroke-width="0.9"/><path d="M589.5,163.6V175.6" stroke="#0ae40a" stroke-width="2.7"/>
<path d="M591.1,139.3V168.2" stroke="#484848" stroke-width="0.9"/><path d="M591.1,143.8V162.8" stroke="#0ae40a" stroke-width="2.7"/>
<path d="M592.7,140.7V159.7" stroke="#484848" stroke-width="0.9"/><path d="M592.7,143.6V153.8" stroke="#fa0a0a" stroke-width="2.7"/>
<path d="M594.2,146.5V160.9" stroke="#484848" stroke-width="0.9"/><path d="M594.2,149.3V157.7" stroke="#0ae40a" stroke-width="2.7"/>
<path d="M595.8,139.5V168.8" stroke="#484848" stroke-width="0.9"/><path d="M595.8,148.6V166.6" stroke="#fa0a0a" stroke-width="2.7"/>
<path d="M597.4,141.9V163.0" stroke="#484848" stroke-width="0.9"/><path d="M597.4,146.1V161.4" stroke="#0ae40a" stroke-width="2.7"/>
<path d="M599.0,139.8V159.2" stroke="#484848" stroke-width="0.9"/><path d="M599.0,141.3V156.7" stroke="#fa0a0a" stroke-width="2.7"/>
<path d="M600.5,143.3V161.6" stroke="#484848" stroke-width="0.9"/><path d="M600.5,150.0V157.0" stroke="#0ae40a" stroke-width="2.7"/>
<path d="M602.1,147.5V162.3" stroke="#484848" stroke-width="0.9"/><path d="M602.1,154.8V159.8" stroke="#fa0a0a" stroke-width="2.7"/>
<path d="M603.7,164.2V192.3" stroke="#484848" stroke-width="0.9"/><path d="M603.7,175.2V189.1" stroke="#fa0a0a" stroke-width="2.7"/>
<path d="M605.2,180.3V202.1" stroke="#484848" stroke-width="0.9"/><path d="M605.2,182.6V196.2" stroke="#0ae40a" stroke-width="2.7"/>
<path d="M606.8,194.2V226.7" stroke="#484848" stroke-width="0.9"/><path d="M606.8,194.9V224.1" stroke="#fa0a0a" stroke-width="2.7"/>
<path d="M608.4,220.9V232.0" stroke="#484848" stroke-width="0.9"/><path d="M608.4,224.7V230.6" stroke="#fa0a0a" stroke-width="2.7"/>
<path d="M609.9,222.1V236.1" stroke="#484848" stroke-width="0.9"/><path d="M609.9,227.0V230.3" stroke="#0ae40a" stroke-width="2.7"/>
<path d="M611.5,223.4V249.8" stroke="#484848" stroke-width="0.9"/><path d="M611.5,224.1V243.0" stroke="#fa0a0a" stroke-width="2.7"/>
<path d="M613.1,227.8V245.9" stroke="#484848" stroke-width="0.9"/><path d="M613.1,229.7V244.1" stroke="#0ae40a" stroke-width="2.7"/>
<path d="M614.7,218.3V240.2" stroke="#484848" stroke-width="0.9"/><path d="M614.7,223.7V232.5" stroke="#0ae40a" stroke-width="2.7"/>
<path d="M616.2,180.6V212.1" stroke="#484848" stroke-width="0.9"/><path d="M616.2,191.6V208.6" stroke="#0ae40a" stroke-width="2.7"/>
<path d="M617.8,179.0V189.1" stroke="#484848" stroke-width="0.9"/><path d="M617.8,183.4V186.1" stroke="#0ae40a" stroke-width="2.7"/>
<path d="M619.4,179.3V189.5" stroke="#484848" stroke-width="0.9"/><path d="M619.4,182.0V183.6" stroke="#fa0a0a" stroke-width="2.7"/>
<path d="M620.9,181.1V195.5" stroke="#484848" stroke-width="0.9"/><path d="M620.9,182.8V192.1" stroke="#fa0a0a" stroke-width="2.7"/>
<path d="M622.5,183.6V201.5" stroke="#484848" stroke-width="0.9"/><path d="M622.5,188.6V196.4" stroke="#fa0a0a" stroke-width="2.7"/>
<path d="M624.1,198.0V207.0" stroke="#484848" stroke-width="0.9"/><path d="M624.1,201.7V204.5" stroke="#fa0a0a" stroke-width="2.7"/>
<path d="M625.6,185.7V206.1" stroke="#484848" stroke-width="0.9"/><path d="M625.6,188.1V203.5" stroke="#0ae40a" stroke-width="2.7"/>
<path d="M627.2,185.2V196.9" stroke="#484848" stroke-width="0.9"/><path d="M627.2,188.0V194.9" stroke="#fa0a0a" stroke-width="2.7"/>
<path d="M628.8,191.2V201.5" stroke="#484848" stroke-width="0.9"/><path d="M628.8,194.0V199.5" stroke="#0ae40a" stroke-width="2.7"/>
<path d="M630.4,172.2V197.1" stroke="#484848" stroke-width="0.9"/><path d="M630.4,177.1V192.1" stroke="#0ae40a" stroke-width="2.7"/>
<path d="M631.9,165.3V181.2" stroke="#484848" stroke-width="0.9"/><path d="M631.9,167.5V179.7" stroke="#0ae40a" stroke-width="2.7"/>
<path d="M633.5,161.2V175.7" stroke="#484848" stroke-width="0.9"/><path d="M633.5,165.6V171.3" stroke="#0ae40a" stroke-width="2.7"/>
<path d="M635.1,155.5V179.1" stroke="#484848" stroke-width="0.9"/><path d="M635.1,160.0V175.2" stroke="#fa0a0a" stroke-width="2.7"/>
<path d="M636.6,171.1V176.7" stroke="#484848" stroke-width="0.9"/><path d="M636.6,173.2V175.0" stroke="#fa0a0a" stroke-width="2.7"/>
<path d="M638.2,174.0V198.5" stroke="#484848" stroke-width="0.9"/><path d="M638.2,175.9V191.2" stroke="#fa0a0a" stroke-width="2.7"/>
<path d="M639.8,181.1V194.0" stroke="#484848" stroke-width="0.9"/><path d="M639.8,184.5V187.4" stroke="#0ae40a" stroke-width="2.7"/>
<path d="M641.3,168.3V186.3" stroke="#484848" stroke-width="0.9"/><path d="M641.3,169.9V182.3" stroke="#0ae40a" stroke-width="2.7"/>
<path d="M642.9,159.9V175.1" stroke="#484848" stroke-width="0.9"/><path d="M642.9,162.3V171.4" stroke="#0ae40a" stroke-width="2.7"/>
<path d="M644.5,145.9V165.9" stroke="#484848" stroke-width="0.9"/><path d="M644.5,152.1V159.6" stroke="#0ae40a" stroke-width="2.7"/>
<path d="M646.1,129.1V158.3" stroke="#484848" stroke-width="0.9"/><path d="M646.1,133.3V151.8" stroke="#0ae40a" stroke-width="2.7"/>
<path d="M647.6,118.6V143.7" stroke="#484848" stroke-width="0.9"/><path d="M647.6,125.3V134.1" stroke="#fa0a0a" stroke-width="2.7"/>
<path d="M649.2,117.1V134.4" stroke="#484848" stroke-width="0.9"/><path d="M649.2,126.2V128.8" stroke="#0ae40a" stroke-width="2.7"/>
<path d="M650.8,117.4V130.5" stroke="#484848" stroke-width="0.9"/><path d="M650.8,124.4V126.3" stroke="#fa0a0a" stroke-width="2.7"/>
<path d="M652.3,110.5V128.6" stroke="#484848" stroke-width="0.9"/><path d="M652.3,114.3V124.8" stroke="#0ae40a" stroke-width="2.7"/>
<path d="M653.9,112.4V148.5" stroke="#484848" stroke-width="0.9"/><path d="M653.9,115.0V138.0" stroke="#fa0a0a" stroke-width="2.7"/>
<path d="M655.5,120.8V144.1" stroke="#484848" stroke-width="0.9"/><path d="M655.5,122.9V142.5" stroke="#0ae40a" stroke-width="2.7"/>
<path d="M657.0,113.2V128.1" stroke="#484848" stroke-width="0.9"/><path d="M657.0,118.5V126.2" stroke="#0ae40a" stroke-width="2.7"/>
<path d="M658.6,113.0V127.8" stroke="#484848" stroke-width="0.9"/><path d="M658.6,114.6V122.0" stroke="#0ae40a" stroke-width="2.7"/>
<path d="M660.2,89.9V115.2" stroke="#484848" stroke-width="0.9"/><path d="M660.2,93.8V113.4" stroke="#0ae40a" stroke-width="2.7"/>
<path d="M661.7,85.9V98.4" stroke="#484848" stroke-width="0.9"/><path d="M661.7,92.1V94.2" stroke="#fa0a0a" stroke-width="2.7"/>
<path d="M663.3,86.1V110.5" stroke="#484848" stroke-width="0.9"/><path d="M663.3,91.1V108.9" stroke="#fa0a0a" stroke-width="2.7"/>
<path d="M664.9,100.8V115.6" stroke="#484848" stroke-width="0.9"/><path d="M664.9,105.8V107.6" stroke="#0ae40a" stroke-width="2.7"/>
<path d="M666.5,98.6V110.9" stroke="#484848" stroke-width="0.9"/><path d="M666.5,101.7V108.8" stroke="#0ae40a" stroke-width="2.7"/>
<path d="M668.0,94.5V108.5" stroke="#484848" stroke-width="0.9"/><path d="M668.0,98.4V105.4" stroke="#fa0a0a" stroke-width="2.7"/>
<path d="M669.6,100.9V114.1" stroke="#484848" stroke-width="0.9"/><path d="M669.6,102.7V105.9" stroke="#0ae40a" stroke-width="2.7"/>
<path d="M671.2,95.4V112.8" stroke="#484848" stroke-width="0.9"/><path d="M671.2,101.1V109.7" stroke="#fa0a0a" stroke-width="2.7"/>
<path d="M672.7,116.1V136.1" stroke="#484848" stroke-width="0.9"/><path d="M672.7,116.1V133.7" stroke="#fa0a0a" stroke-width="2.7"/>
<path d="M674.3,118.7V135.0" stroke="#484848" stroke-width="0.9"/><path d="M674.3,124.1V132.9" stroke="#0ae40a" stroke-width="2.7"/>
<path d="M675.9,119.4V127.4" stroke="#484848" stroke-width="0.9"/><path d="M675.9,121.7V125.0" stroke="#0ae40a" stroke-width="2.7"/>
<path d="M677.4,104.8V127.0" stroke="#484848" stroke-width="0.9"/><path d="M677.4,107.6V123.8" stroke="#0ae40a" stroke-width="2.7"/>
<path d="M679.0,78.3V116.8" stroke="#484848" stroke-width="0.9"/><path d="M679.0,86.8V108.1" stroke="#0ae40a" stroke-width="2.7"/>
<path d="M680.6,69.8V91.3" stroke="#484848" stroke-width="0.9"/><path d="M680.6,74.9V88.9" stroke="#0ae40a" stroke-width="2.7"/>
<path d="M682.2,74.8V82.1" stroke="#484848" stroke-width="0.9"/><path d="M682.2,77.9V79.5" stroke="#fa0a0a" stroke-width="2.7"/>
<path d="M683.7,74.4V91.8" stroke="#484848" stroke-width="0.9"/><path d="M683.7,76.6V88.1" stroke="#fa0a0a" stroke-width="2.7"/>
<path d="M685.3,73.6V97.9" stroke="#484848" stroke-width="0.9"/><path d="M685.3,77.0V92.1" stroke="#0ae40a" stroke-width="2.7"/>
<path d="M686.9,67.0V87.4" stroke="#484848" stroke-width="0.9"/><path d="M686.9,75.2V84.4" stroke="#fa0a0a" stroke-width="2.7"/>
<path d="M688.4,74.7V87.9" stroke="#484848" stroke-width="0.9"/><path d="M688.4,82.6V86.1" stroke="#0ae40a" stroke-width="2.7"/>
<path d="M690.0,76.0V106.3" stroke="#484848" stroke-width="0.9"/><path d="M690.0,80.8V100.1" stroke="#fa0a0a" stroke-width="2.7"/>
<path d="M691.6,101.8V117.7" stroke="#484848" stroke-width="0.9"/><path d="M691.6,106.8V109.1" stroke="#0ae40a" stroke-width="2.7"/>
<path d="M693.1,79.0V105.9" stroke="#484848" stroke-width="0.9"/><path d="M693.1,81.7V101.4" stroke="#0ae40a" stroke-width="2.7"/>
<path d="M694.7,71.9V92.4" stroke="#484848" stroke-width="0.9"/><path d="M694.7,79.9V85.8" stroke="#fa0a0a" stroke-width="2.7"/>
<path d="M696.3,60.3V104.7" stroke="#484848" stroke-width="0.9"/><path d="M696.3,73.2V83.0" stroke="#fa0a0a" stroke-width="2.7"/>
<path d="M697.9,84.8V106.4" stroke="#484848" stroke-width="0.9"/><path d="M697.9,87.6V100.2" stroke="#fa0a0a" stroke-width="2.7"/>
<path d="M699.4,95.1V128.4" stroke="#484848" stroke-width="0.9"/><path d="M699.4,102.0V121.8" stroke="#fa0a0a" stroke-width="2.7"/>
<path d="M701.0,111.3V124.3" stroke="#484848" stroke-width="0.9"/><path d="M701.0,118.5V121.4" stroke="#0ae40a" stroke-width="2.7"/>
<path d="M702.6,117.5V137.2" stroke="#484848" stroke-width="0.9"/><path d="M702.6,124.2V125.6" stroke="#0ae40a" stroke-width="2.7"/>
<path d="M704.1,110.7V122.1" stroke="#484848" stroke-width="0.9"/><path d="M704.1,113.7V116.6" stroke="#0ae40a" stroke-width="2.7"/>
<path d="M705.7,110.3V117.1" stroke="#484848" stroke-width="0.9"/><path d="M705.7,112.3V114.3" stroke="#0ae40a" stroke-width="2.7"/>
<path d="M707.3,102.1V118.1" stroke="#484848" stroke-width="0.9"/><path d="M707.3,106.4V115.3" stroke="#0ae40a" stroke-width="2.7"/>
<path d="M708.8,84.7V115.7" stroke="#484848" stroke-width="0.9"/><path d="M708.8,88.5V108.0" stroke="#0ae40a" stroke-width="2.7"/>
<path d="M710.4,78.3V96.0" stroke="#484848" stroke-width="0.9"/><path d="M710.4,84.2V88.8" stroke="#fa0a0a" stroke-width="2.7"/>
<path d="M712.0,93.1V100.9" stroke="#484848" stroke-width="0.9"/><path d="M712.0,95.4V98.4" stroke="#fa0a0a" stroke-width="2.7"/>
<path d="M713.6,97.7V119.0" stroke="#484848" stroke-width="0.9"/><path d="M713.6,101.8V111.6" stroke="#fa0a0a" stroke-width="2.7"/>
<path d="M715.1,105.0V128.4" stroke="#484848" stroke-width="0.9"/><path d="M715.1,112.6V125.3" stroke="#fa0a0a" stroke-width="2.7"/>
<path d="M716.7,103.6V125.8" stroke="#484848" stroke-width="0.9"/><path d="M716.7,109.8V119.0" stroke="#0ae40a" stroke-width="2.7"/>
<path d="M718.3,99.8V125.6" stroke="#484848" stroke-width="0.9"/><path d="M718.3,104.1V117.0" stroke="#fa0a0a" stroke-width="2.7"/>
<path d="M719.8,113.5V133.8" stroke="#484848" stroke-width="0.9"/><path d="M719.8,118.2V128.3" stroke="#fa0a0a" stroke-width="2.7"/>
<path d="M721.4,119.5V140.4" stroke="#484848" stroke-width="0.9"/><path d="M721.4,123.1V136.5" stroke="#fa0a0a" stroke-width="2.7"/>
<path d="M723.0,130.4V144.9" stroke="#484848" stroke-width="0.9"/><path d="M723.0,131.8V142.4" stroke="#fa0a0a" stroke-width="2.7"/>
<path d="M724.5,141.0V153.0" stroke="#484848" stroke-width="0.9"/><path d="M724.5,146.0V147.8" stroke="#fa0a0a" stroke-width="2.7"/>
<path d="M726.1,137.1V162.3" stroke="#484848" stroke-width="0.9"/><path d="M726.1,141.3V157.6" stroke="#0ae40a" stroke-width="2.7"/>
<path d="M727.7,122.4V147.8" stroke="#484848" stroke-width="0.9"/><path d="M727.7,126.6V144.6" stroke="#0ae40a" stroke-width="2.7"/>
<path d="M729.2,106.8V134.4" stroke="#484848" stroke-width="0.9"/><path d="M729.2,108.5V127.1" stroke="#0ae40a" stroke-width="2.7"/>
<path d="M730.8,100.4V118.2" stroke="#484848" stroke-width="0.9"/><path d="M730.8,106.5V114.0" stroke="#0ae40a" stroke-width="2.7"/>
<path d="M732.4,102.5V113.4" stroke="#484848" stroke-width="0.9"/><path d="M732.4,107.6V111.1" stroke="#0ae40a" stroke-width="2.7"/>
<path d="M734.0,109.4V123.1" stroke="#484848" stroke-width="0.9"/><path d="M734.0,111.5V118.2" stroke="#fa0a0a" stroke-width="2.7"/>
<path d="M735.5,110.6V120.5" stroke="#484848" stroke-width="0.9"/><path d="M735.5,116.5V118.3" stroke="#0ae40a" stroke-width="2.7"/>
<path d="M737.1,111.5V130.2" stroke="#484848" stroke-width="0.9"/><path d="M737.1,119.3V128.1" stroke="#fa0a0a" stroke-width="2.7"/>
<path d="M738.7,109.2V129.8" stroke="#484848" stroke-width="0.9"/><path d="M738.7,113.5V125.9" stroke="#0ae40a" stroke-width="2.7"/>
<path d="M740.2,89.4V108.4" stroke="#484848" stroke-width="0.9"/><path d="M740.2,91.0V107.3" stroke="#0ae40a" stroke-width="2.7"/>
<path d="M741.8,71.2V78.5" stroke="#484848" stroke-width="0.9"/><path d="M741.8,72.9V75.9" stroke="#0ae40a" stroke-width="2.7"/>
<path d="M743.4,59.4V107.3" stroke="#484848" stroke-width="0.9"/><path d="M743.4,59.7V106.8" stroke="#fa0a0a" stroke-width="2.7"/>
<path d="M744.9,101.1V109.8" stroke="#484848" stroke-width="0.9"/><path d="M744.9,103.8V106.9" stroke="#fa0a0a" stroke-width="2.7"/>
<path d="M746.5,108.6V126.0" stroke="#484848" stroke-width="0.9"/><path d="M746.5,111.9V122.2" stroke="#fa0a0a" stroke-width="2.7"/>
<path d="M748.1,123.5V134.9" stroke="#484848" stroke-width="0.9"/><path d="M748.1,129.0V132.0" stroke="#fa0a0a" stroke-width="2.7"/>
<path d="M749.7,126.9V139.8" stroke="#484848" stroke-width="0.9"/><path d="M749.7,130.2V137.4" stroke="#fa0a0a" stroke-width="2.7"/>
<path d="M751.2,115.6V147.0" stroke="#484848" stroke-width="0.9"/><path d="M751.2,121.0V140.9" stroke="#0ae40a" stroke-width="2.7"/>
<path d="M752.8,123.3V136.5" stroke="#484848" stroke-width="0.9"/><path d="M752.8,128.1V130.8" stroke="#fa0a0a" stroke-width="2.7"/>
<path d="M754.4,113.4V122.9" stroke="#484848" stroke-width="0.9"/><path d="M754.4,115.7V119.1" stroke="#0ae40a" stroke-width="2.7"/>
<path d="M755.9,101.9V115.2" stroke="#484848" stroke-width="0.9"/><path d="M755.9,104.3V113.6" stroke="#0ae40a" stroke-width="2.7"/>
<path d="M757.5,78.8V93.8" stroke="#484848" stroke-width="0.9"/><path d="M757.5,81.5V90.1" stroke="#0ae40a" stroke-width="2.7"/>
<path d="M759.1,80.7V92.7" stroke="#484848" stroke-width="0.9"/><path d="M759.1,80.9V88.7" stroke="#0ae40a" stroke-width="2.7"/>
<path d="M760.6,74.6V100.4" stroke="#484848" stroke-width="0.9"/><path d="M760.6,76.6V97.7" stroke="#fa0a0a" stroke-width="2.7"/>
<path d="M762.2,149.6V192.3" stroke="#484848" stroke-width="0.9"/><path d="M762.2,162.8V186.1" stroke="#fa0a0a" stroke-width="2.7"/>
<path d="M763.8,147.4V194.0" stroke="#484848" stroke-width="0.9"/><path d="M763.8,147.5V173.7" stroke="#0ae40a" stroke-width="2.7"/>
<path d="M765.4,155.1V177.4" stroke="#484848" stroke-width="0.9"/><path d="M765.4,156.6V166.8" stroke="#fa0a0a" stroke-width="2.7"/>
<path d="M766.9,162.1V187.2" stroke="#484848" stroke-width="0.9"/><path d="M766.9,163.3V169.0" stroke="#0ae40a" stroke-width="2.7"/>
<path d="M768.5,151.8V183.2" stroke="#484848" stroke-width="0.9"/><path d="M768.5,166.4V180.0" stroke="#fa0a0a" stroke-width="2.7"/>
<path d="M770.1,185.4V205.8" stroke="#484848" stroke-width="0.9"/><path d="M770.1,192.5V199.5" stroke="#0ae40a" stroke-width="2.7"/>
<path d="M771.6,175.9V192.3" stroke="#484848" stroke-width="0.9"/><path d="M771.6,185.2V191.4" stroke="#0ae40a" stroke-width="2.7"/>
<path d="M773.2,162.1V177.4" stroke="#484848" stroke-width="0.9"/><path d="M773.2,162.7V173.9" stroke="#0ae40a" stroke-width="2.7"/>
<path d="M774.8,148.2V162.1" stroke="#484848" stroke-width="0.9"/><path d="M774.8,148.6V153.2" stroke="#0ae40a" stroke-width="2.7"/>
<path d="M776.3,142.3V162.1" stroke="#484848" stroke-width="0.9"/><path d="M776.3,144.4V146.6" stroke="#0ae40a" stroke-width="2.7"/>
<path d="M777.9,125.5V144.2" stroke="#484848" stroke-width="0.9"/><path d="M777.9,130.8V143.5" stroke="#0ae40a" stroke-width="2.7"/>
<path d="M779.5,127.4V140.1" stroke="#484848" stroke-width="0.9"/><path d="M779.5,133.3V134.7" stroke="#0ae40a" stroke-width="2.7"/>
<path d="M781.1,135.8V147.1" stroke="#484848" stroke-width="0.9"/><path d="M781.1,139.6V143.7" stroke="#0ae40a" stroke-width="2.7"/>
<path d="M782.6,120.1V139.4" stroke="#484848" stroke-width="0.9"/><path d="M782.6,124.5V138.1" stroke="#0ae40a" stroke-width="2.7"/>
<path d="M784.2,109.9V123.7" stroke="#484848" stroke-width="0.9"/><path d="M784.2,111.5V120.1" stroke="#0ae40a" stroke-width="2.7"/>
<path d="M785.8,94.7V115.0" stroke="#484848" stroke-width="0.9"/><path d="M785.8,102.6V109.5" stroke="#fa0a0a" stroke-width="2.7"/>
<path d="M787.3,102.2V117.5" stroke="#484848" stroke-width="0.9"/><path d="M787.3,108.9V110.3" stroke="#fa0a0a" stroke-width="2.7"/>
<path d="M788.9,104.7V119.0" stroke="#484848" stroke-width="0.9"/><path d="M788.9,106.3V107.7" stroke="#0ae40a" stroke-width="2.7"/>
<path d="M790.5,101.8V129.2" stroke="#484848" stroke-width="0.9"/><path d="M790.5,107.2V127.6" stroke="#fa0a0a" stroke-width="2.7"/>
<path d="M792.0,112.4V143.4" stroke="#484848" stroke-width="0.9"/><path d="M792.0,119.9V142.8" stroke="#fa0a0a" stroke-width="2.7"/>
<path d="M793.6,143.1V164.2" stroke="#484848" stroke-width="0.9"/><path d="M793.6,143.9V156.1" stroke="#fa0a0a" stroke-width="2.7"/>
<path d="M795.2,130.3V149.3" stroke="#484848" stroke-width="0.9"/><path d="M795.2,139.1V143.8" stroke="#0ae40a" stroke-width="2.7"/>
<path d="M796.8,125.5V180.3" stroke="#484848" stroke-width="0.9"/><path d="M796.8,125.5V179.8" stroke="#fa0a0a" stroke-width="2.7"/>
<path d="M798.3,161.7V193.4" stroke="#484848" stroke-width="0.9"/><path d="M798.3,162.3V187.6" stroke="#0ae40a" stroke-width="2.7"/>
<path d="M799.9,166.8V208.4" stroke="#484848" stroke-width="0.9"/><path d="M799.9,167.5V202.0" stroke="#fa0a0a" stroke-width="2.7"/>
<path d="M801.5,182.9V216.4" stroke="#484848" stroke-width="0.9"/><path d="M801.5,194.9V214.4" stroke="#0ae40a" stroke-width="2.7"/>
<path d="M803.0,186.5V200.4" stroke="#484848" stroke-width="0.9"/><path d="M803.0,188.9V190.3" stroke="#fa0a0a" stroke-width="2.7"/>
<path d="M804.6,198.6V216.1" stroke="#484848" stroke-width="0.9"/><path d="M804.6,204.0V214.7" stroke="#fa0a0a" stroke-width="2.7"/>
<path d="M806.2,211.3V224.8" stroke="#484848" stroke-width="0.9"/><path d="M806.2,212.8V223.3" stroke="#fa0a0a" stroke-width="2.7"/>
<path d="M15,530.0 L19.7,530.0 19.7,530.0 L21.3,528.7 L22.8,528.8 L24.4,529.3 L26.0,528.6 L27.5,528.0 L29.1,524.9 L30.7,523.0 L32.3,521.6 L33.8,520.2 L35.4,519.0 L37.0,517.3 L38.5,516.5 L40.1,516.1 L41.7,515.9 L43.2,515.4 L44.8,514.7 L46.4,513.8 L48.0,513.0 L49.5,512.3 L51.1,512.0 L52.7,512.1 L54.2,512.5 L55.8,513.6 L57.4,514.5 L58.9,515.6 L60.5,515.9 L62.1,516.1 L63.7,516.0 L65.2,515.7 L66.8,515.7 L68.4,515.7 L69.9,515.7 L71.5,515.6 L73.1,515.7 L74.6,515.7 L76.2,515.5 L77.8,514.4 L79.4,514.2 L80.9,514.1 L82.5,514.0 L84.1,513.2 L85.6,512.1 L87.2,511.6 L88.8,511.1 L90.3,510.9 L91.9,510.8 L93.5,510.4 L95.1,509.8 L96.6,508.4 L98.2,505.8 L99.8,504.1 L101.3,502.9 L102.9,502.6 L104.5,502.2 L106.0,493.0 L107.6,485.6 L109.2,478.5 L110.7,474.9 L112.3,470.3 L113.9,466.9 L115.5,463.9 L117.0,461.7 L118.6,460.6 L120.2,459.2 L121.7,458.2 L123.3,457.4 L124.9,456.1 L126.4,454.0 L128.0,452.5 L129.6,451.1 L131.2,449.7 L132.7,449.7 L134.3,451.3 L135.9,455.7 L137.4,455.8 L139.0,455.4 L140.6,455.2 L142.1,455.5 L143.7,455.0 L145.3,454.5 L146.9,454.3 L148.4,454.4 L150.0,455.4 L151.6,456.3 L153.1,457.3 L154.7,457.4 L156.3,454.5 L157.8,452.8 L159.4,450.3 L161.0,447.2 L162.6,445.2 L164.1,444.3 L165.7,444.0 L167.3,443.6 L168.8,443.2 L170.4,442.7 L172.0,442.4 L173.5,442.0 L175.1,441.4 L176.7,441.0 L178.2,441.3 L179.8,441.9 L181.4,442.4 L183.0,443.3 L184.5,444.4 L186.1,443.6 L187.7,442.9 L189.2,441.4 L190.8,441.9 L192.4,443.3 L193.9,444.5 L195.5,444.8 L197.1,444.8 L198.7,443.6 L200.2,443.6 L201.8,442.7 L203.4,442.0 L204.9,442.4 L206.5,442.3 L208.1,440.5 L209.6,437.9 L211.2,435.6 L212.8,434.1 L214.4,432.9 L215.9,432.4 L217.5,432.5 L219.1,433.0 L220.6,434.6 L222.2,434.8 L223.8,435.1 L225.3,435.6 L226.9,435.8 L228.5,436.1 L230.1,435.8 L231.6,434.8 L233.2,433.7 L234.8,433.4 L236.3,433.3 L237.9,433.5 L239.5,435.1 L241.0,437.5 L242.6,440.5 L244.2,442.8 L245.8,445.9 L247.3,447.7 L248.9,448.7 L250.5,448.6 L252.0,448.5 L253.6,448.0 L255.2,446.9 L256.7,445.9 L258.3,445.3 L259.9,444.5 L261.4,444.4 L263.0,444.4 L264.6,444.8 L266.2,444.7 L267.7,444.8 L269.3,445.1 L270.9,444.9 L272.4,443.9 L274.0,443.3 L275.6,443.4 L277.1,443.1 L278.7,443.4 L280.3,443.7 L281.9,444.1 L283.4,443.8 L285.0,443.7 L286.6,443.9 L288.1,443.9 L289.7,441.7 L291.3,439.8 L292.8,436.4 L294.4,434.0 L296.0,431.5 L297.6,429.6 L299.1,427.1 L300.7,425.1 L302.3,424.4 L303.8,424.9 L305.4,425.7 L307.0,426.8 L308.5,428.9 L310.1,430.8 L311.7,432.3 L313.3,432.6 L314.8,432.9 L316.4,432.7 L318.0,432.7 L319.5,432.7 L321.1,432.8 L322.7,433.0 L324.2,433.7 L325.8,433.9 L327.4,434.3 L329.0,433.7 L330.5,434.4 L332.1,435.5 L333.7,435.3 L335.2,434.9 L336.8,434.4 L338.4,433.7 L339.9,433.1 L341.5,432.5 L343.1,432.5 L344.6,433.1 L346.2,433.3 L347.8,434.1 L349.4,431.5 L350.9,428.2 L352.5,424.6 L354.1,421.0 L355.6,418.2 L357.2,414.2 L358.8,411.2 L360.3,407.7 L361.9,402.6 L363.5,398.3 L365.1,394.4 L366.6,390.0 L368.2,386.1 L369.8,383.2 L371.3,379.9 L372.9,377.0 L374.5,376.0 L376.0,375.4 L377.6,373.4 L379.2,369.1 L380.8,365.5 L382.3,360.9 L383.9,357.4 L385.5,352.5 L387.0,348.8 L388.6,345.5 L390.2,341.9 L391.7,339.9 L393.3,337.8 L394.9,337.7 L396.5,338.6 L398.0,332.6 L399.6,327.6 L401.2,323.8 L402.7,320.8 L404.3,319.2 L405.9,318.5 L407.4,315.5 L409.0,309.5 L410.6,303.1 L412.2,295.8 L413.7,285.6 L415.3,281.6 L416.9,279.0 L418.4,272.7 L420.0,268.2 L421.6,265.9 L423.1,264.6 L424.7,263.6 L426.3,264.9 L427.8,269.8 L429.4,268.1 L431.0,265.1 L432.6,262.3 L434.1,262.3 L435.7,265.2 L437.3,268.5 L438.8,270.6 L440.4,271.4 L442.0,272.1 L443.5,271.4 L445.1,272.5 L446.7,272.4 L448.3,272.2 L449.8,273.0 L451.4,273.1 L453.0,273.1 L454.5,272.7 L456.1,272.7 L457.7,271.8 L459.2,271.7 L460.8,266.9 L462.4,268.5 L464.0,272.7 L465.5,274.7 L467.1,276.5 L468.7,277.9 L470.2,279.3 L471.8,280.7 L473.4,282.3 L474.9,282.3 L476.5,281.9 L478.1,278.7 L479.7,276.4 L481.2,274.8 L482.8,275.9 L484.4,275.0 L485.9,273.3 L487.5,271.4 L489.1,266.9 L490.6,263.1 L492.2,264.3 L493.8,263.1 L495.3,260.8 L496.9,261.6 L498.5,252.7 L500.1,241.4 L501.6,224.1 L503.2,209.9 L504.8,203.4 L506.3,198.1 L507.9,189.1 L509.5,179.9 L511.0,167.4 L512.6,158.2 L514.2,151.3 L515.8,145.1 L517.3,140.9 L518.9,135.1 L520.5,126.7 L522.0,118.6 L523.6,114.6 L525.2,108.3 L526.7,107.9 L528.3,113.2 L529.9,116.8 L531.5,118.4 L533.0,117.6 L534.6,117.7 L536.2,120.3 L537.7,124.6 L539.3,126.6 L540.9,127.3 L542.4,127.1 L544.0,126.6 L545.6,124.9 L547.2,120.9 L548.7,121.5 L550.3,121.0 L551.9,121.3 L553.4,123.1 L555.0,122.4 L556.6,127.5 L558.1,128.2 L559.7,128.7 L561.3,129.9 L562.9,127.0 L564.4,124.1 L566.0,122.2 L567.6,120.2 L569.1,114.8 L570.7,115.3 L572.3,116.5 L573.8,116.7 L575.4,116.1 L577.0,121.1 L578.5,128.6 L580.1,134.0 L581.7,142.1 L583.3,151.2 L584.8,157.9 L586.4,157.9 L588.0,156.6 L589.5,152.2 L591.1,146.6 L592.7,143.1 L594.2,135.5 L595.8,131.3 L597.4,124.0 L599.0,119.1 L600.5,114.5 L602.1,111.6 L603.7,111.2 L605.2,110.9 L606.8,113.4 L608.4,114.1 L609.9,117.8 L611.5,116.9 L613.1,117.5 L614.7,117.3 L616.2,117.2 L617.8,117.1 L619.4,118.1 L620.9,120.2 L622.5,125.8 L624.1,130.3 L625.6,135.5 L627.2,138.3 L628.8,145.5 L630.4,149.2 L631.9,153.1 L633.5,154.4 L635.1,152.6 L636.6,151.5 L638.2,151.4 L639.8,151.8 L641.3,150.5 L642.9,152.3 L644.5,151.0 L646.1,144.8 L647.6,137.1 L649.2,128.5 L650.8,121.3 L652.3,112.5 L653.9,110.1 L655.5,106.6 L657.0,101.9 L658.6,98.1 L660.2,90.9 L661.7,83.9 L663.3,80.2 L664.9,76.7 L666.5,73.8 L668.0,72.5 L669.6,74.7 L671.2,78.9 L672.7,83.0 L674.3,86.8 L675.9,89.6 L677.4,89.2 L679.0,85.5 L680.6,78.9 L682.2,74.7 L683.7,72.4 L685.3,70.2 L686.9,68.6 L688.4,66.7 L690.0,66.7 L691.6,67.3 L693.1,65.8 L694.7,64.4 L696.3,62.8 L697.9,62.8 L699.4,62.0 L701.0,61.6 L702.6,60.9 L704.1,62.7 L705.7,63.6 L707.3,64.5 L708.8,63.8 L710.4,64.0 L712.0,66.7 L713.6,68.8 L715.1,68.9 L716.7,72.3 L718.3,74.5 L719.8,76.6 L721.4,75.6 L723.0,74.0 L724.5,76.0 L726.1,79.0 L727.7,84.4 L729.2,85.5 L730.8,84.4 L732.4,83.5 L734.0,83.4 L735.5,83.5 L737.1,84.0 L738.7,84.8 L740.2,85.3 L741.8,80.9 L743.4,82.1 L744.9,81.6 L746.5,81.6 L748.1,82.3 L749.7,82.4 L751.2,82.2 L752.8,82.4 L754.4,82.8 L755.9,83.2 L757.5,79.3 L759.1,74.9 L760.6,73.9 L762.2,64.2 L763.8,64.1 L765.4,61.6 L766.9,60.4 L768.5,57.4 L770.1,54.5 L771.6,56.8 L773.2,65.5 L774.8,68.8 L776.3,72.2 L777.9,73.0 L779.5,73.1 L781.1,73.2 L782.6,73.6 L784.2,71.5 L785.8,70.7 L787.3,71.6 L788.9,76.5 L790.5,85.0 L792.0,91.3 L793.6,92.9 L795.2,92.5 L796.8,91.6 L798.3,91.6 L799.9,88.8 L801.5,88.5 L803.0,88.0 L804.6,83.2 L806.2,78.9" stroke="#3a3a3a" stroke-width="1" fill="none" stroke-linejoin="round"/>
<path d="M19.7,530.0 L21.3,534.1 L22.8,536.1 L24.4,536.7 L26.0,536.3 L27.5,536.1 L29.1,537.2 L30.7,537.4 L32.3,537.4 L33.8,537.4 L35.4,537.3 L37.0,537.5 L38.5,537.2 L40.1,536.9 L41.7,536.5 L43.2,536.2 L44.8,536.0 L46.4,536.0 L48.0,535.9 L49.5,535.9 L51.1,535.2 L52.7,533.8 L54.2,531.8 L55.8,529.1 L57.4,527.3 L58.9,525.4 L60.5,524.7 L62.1,524.0 L63.7,523.4 L65.2,523.1 L66.8,522.9 L68.4,522.9 L69.9,522.8 L71.5,523.0 L73.1,522.7 L74.6,522.6 L76.2,522.7 L77.8,523.4 L79.4,523.5 L80.9,523.5 L82.5,523.3 L84.1,523.5 L85.6,524.0 L87.2,524.0 L88.8,523.6 L90.3,523.1 L91.9,522.6 L93.5,522.3 L95.1,522.3 L96.6,522.9 L98.2,523.8 L99.8,524.0 L101.3,523.7 L102.9,522.4 L104.5,521.4 L106.0,526.7 L107.6,530.1 L109.2,533.1 L110.7,533.2 L112.3,533.4 L113.9,532.5 L115.5,531.7 L117.0,530.4 L118.6,528.3 L120.2,526.2 L121.7,523.4 L123.3,520.2 L124.9,517.0 L126.4,514.1 L128.0,511.0 L129.6,508.5 L131.2,505.3 L132.7,500.9 L134.3,494.8 L135.9,486.2 L137.4,485.1 L139.0,484.5 L140.6,484.3 L142.1,482.9 L143.7,482.5 L145.3,481.8 L146.9,480.9 L148.4,479.5 L150.0,476.7 L151.6,474.5 L153.1,472.1 L154.7,470.4 L156.3,471.5 L157.8,472.3 L159.4,473.4 L161.0,474.7 L162.6,475.6 L164.1,475.6 L165.7,475.4 L167.3,474.9 L168.8,473.5 L170.4,472.7 L172.0,471.2 L173.5,469.4 L175.1,468.5 L176.7,467.4 L178.2,466.3 L179.8,464.8 L181.4,463.5 L183.0,461.5 L184.5,459.5 L186.1,460.9 L187.7,462.8 L189.2,466.1 L190.8,466.5 L192.4,466.4 L193.9,466.6 L195.5,467.0 L197.1,467.4 L198.7,467.7 L200.2,467.7 L201.8,468.0 L203.4,468.3 L204.9,468.2 L206.5,468.2 L208.1,469.1 L209.6,469.9 L211.2,470.5 L212.8,470.5 L214.4,470.6 L215.9,470.3 L217.5,468.8 L219.1,467.2 L220.6,464.0 L222.2,463.3 L223.8,462.5 L225.3,461.3 L226.9,460.8 L228.5,460.2 L230.1,461.9 L231.6,464.1 L233.2,467.5 L234.8,469.7 L236.3,471.3 L237.9,472.9 L239.5,473.5 L241.0,473.4 L242.6,472.5 L244.2,471.6 L245.8,470.3 L247.3,469.6 L248.9,469.2 L250.5,469.2 L252.0,469.2 L253.6,469.5 L255.2,470.0 L256.7,470.6 L258.3,470.6 L259.9,470.7 L261.4,470.6 L263.0,470.6 L264.6,469.8 L266.2,470.0 L267.7,469.6 L269.3,468.7 L270.9,469.1 L272.4,471.1 L274.0,472.8 L275.6,474.0 L277.1,475.3 L278.7,475.7 L280.3,475.8 L281.9,475.7 L283.4,475.8 L285.0,475.8 L286.6,475.7 L288.1,475.7 L289.7,476.8 L291.3,477.8 L292.8,479.1 L294.4,479.1 L296.0,478.9 L297.6,477.9 L299.1,477.7 L300.7,477.4 L302.3,475.6 L303.8,472.4 L305.4,468.7 L307.0,465.2 L308.5,460.4 L310.1,456.9 L311.7,454.2 L313.3,453.7 L314.8,453.2 L316.4,453.5 L318.0,453.5 L319.5,453.3 L321.1,453.8 L322.7,454.0 L324.2,453.8 L325.8,453.8 L327.4,453.7 L329.0,453.9 L330.5,453.6 L332.1,453.2 L333.7,453.2 L335.2,453.2 L336.8,453.4 L338.4,453.4 L339.9,453.5 L341.5,453.1 L343.1,452.6 L344.6,451.3 L346.2,450.6 L347.8,448.5 L349.4,449.0 L350.9,450.2 L352.5,451.0 L354.1,452.0 L355.6,452.4 L357.2,453.4 L358.8,453.9 L360.3,454.8 L361.9,456.3 L363.5,456.4 L365.1,456.3 L366.6,456.1 L368.2,455.5 L369.8,454.2 L371.3,452.8 L372.9,450.9 L374.5,446.9 L376.0,441.9 L377.6,437.3 L379.2,434.2 L380.8,432.0 L382.3,430.3 L383.9,428.3 L385.5,426.9 L387.0,424.2 L388.6,421.7 L390.2,418.8 L391.7,415.1 L393.3,412.5 L394.9,409.0 L396.5,405.3 L398.0,405.0 L399.6,403.7 L401.2,401.0 L402.7,398.1 L404.3,394.2 L405.9,388.5 L407.4,384.4 L409.0,383.5 L410.6,383.8 L412.2,383.7 L413.7,385.6 L415.3,383.0 L416.9,380.8 L418.4,379.9 L420.0,377.4 L421.6,374.6 L423.1,370.4 L424.7,365.6 L426.3,357.0 L427.8,343.8 L429.4,340.8 L431.0,338.2 L432.6,335.1 L434.1,330.1 L435.7,322.6 L437.3,315.1 L438.8,310.2 L440.4,307.8 L442.0,306.0 L443.5,307.7 L445.1,308.3 L446.7,308.5 L448.3,308.9 L449.8,309.9 L451.4,309.9 L453.0,309.8 L454.5,310.9 L456.1,311.3 L457.7,314.1 L459.2,316.3 L460.8,326.7 L462.4,330.5 L464.0,330.8 L465.5,333.5 L467.1,334.5 L468.7,334.1 L470.2,333.6 L471.8,333.4 L473.4,333.9 L474.9,333.9 L476.5,334.0 L478.1,335.4 L479.7,335.8 L481.2,336.1 L482.8,335.8 L484.4,336.0 L485.9,336.2 L487.5,336.6 L489.1,337.3 L490.6,337.5 L492.2,330.3 L493.8,326.0 L495.3,323.5 L496.9,317.2 L498.5,318.4 L500.1,322.8 L501.6,330.6 L503.2,334.4 L504.8,330.9 L506.3,327.5 L507.9,326.9 L509.5,327.3 L511.0,328.1 L512.6,326.1 L514.2,321.3 L515.8,315.9 L517.3,308.9 L518.9,302.4 L520.5,298.0 L522.0,292.4 L523.6,282.4 L525.2,273.8 L526.7,261.3 L528.3,244.5 L529.9,235.5 L531.5,226.8 L533.0,223.0 L534.6,219.6 L536.2,212.3 L537.7,202.6 L539.3,197.8 L540.9,192.8 L542.4,191.8 L544.0,189.6 L545.6,187.5 L547.2,186.7 L548.7,183.7 L550.3,182.8 L551.9,182.9 L553.4,183.1 L555.0,188.5 L556.6,188.8 L558.1,192.7 L559.7,193.3 L561.3,190.5 L562.9,197.8 L564.4,205.8 L566.0,211.6 L567.6,218.0 L569.1,230.9 L570.7,232.5 L572.3,238.3 L573.8,244.8 L575.4,255.5 L577.0,260.5 L578.5,266.1 L580.1,268.8 L581.7,269.7 L583.3,267.7 L584.8,264.7 L586.4,264.7 L588.0,265.4 L589.5,267.3 L591.1,270.6 L592.7,272.3 L594.2,274.8 L595.8,274.8 L597.4,276.2 L599.0,275.6 L600.5,271.2 L602.1,271.0 L603.7,268.4 L605.2,264.3 L606.8,258.9 L608.4,257.6 L609.9,250.8 L611.5,252.5 L613.1,251.2 L614.7,251.8 L616.2,251.6 L617.8,251.4 L619.4,251.7 L620.9,252.5 L622.5,252.1 L624.1,252.7 L625.6,251.4 L627.2,251.4 L628.8,249.0 L630.4,247.4 L631.9,245.1 L633.5,244.5 L635.1,244.9 L636.6,245.2 L638.2,242.0 L639.8,237.0 L641.3,232.6 L642.9,222.7 L644.5,216.3 L646.1,213.4 L647.6,215.4 L649.2,218.3 L650.8,219.8 L652.3,220.7 L653.9,217.4 L655.5,212.6 L657.0,210.4 L658.6,206.2 L660.2,203.4 L661.7,202.1 L663.3,199.9 L664.9,197.5 L666.5,193.0 L668.0,187.3 L669.6,176.3 L671.2,164.6 L672.7,156.9 L674.3,149.3 L675.9,143.4 L677.4,141.2 L679.0,140.2 L680.6,141.7 L682.2,141.2 L683.7,140.9 L685.3,136.9 L686.9,134.8 L688.4,133.0 L690.0,131.6 L691.6,132.3 L693.1,132.6 L694.7,131.6 L696.3,130.9 L697.9,130.8 L699.4,133.2 L701.0,135.2 L702.6,137.4 L704.1,133.5 L705.7,131.5 L707.3,129.1 L708.8,127.9 L710.4,127.9 L712.0,127.5 L713.6,128.6 L715.1,132.2 L716.7,132.1 L718.3,133.2 L719.8,135.6 L721.4,140.2 L723.0,145.5 L724.5,150.1 L726.1,152.6 L727.7,151.6 L729.2,151.3 L730.8,150.9 L732.4,150.7 L734.0,150.2 L735.5,150.3 L737.1,151.4 L738.7,151.4 L740.2,151.1 L741.8,153.8 L743.4,153.5 L744.9,153.5 L746.5,153.2 L748.1,154.7 L749.7,156.7 L751.2,156.1 L752.8,155.4 L754.4,152.3 L755.9,147.5 L757.5,145.5 L759.1,145.3 L760.6,145.2 L762.2,162.9 L763.8,167.0 L765.4,174.3 L766.9,180.2 L768.5,188.5 L770.1,199.2 L771.6,206.3 L773.2,206.6 L774.8,207.5 L776.3,207.9 L777.9,207.9 L779.5,208.0 L781.1,208.1 L782.6,208.0 L784.2,208.2 L785.8,208.4 L787.3,208.1 L788.9,205.7 L790.5,201.9 L792.0,200.1 L793.6,195.5 L795.2,195.1 L796.8,197.3 L798.3,197.2 L799.9,202.1 L801.5,202.7 L803.0,203.7 L804.6,213.7 L806.2,225.5" stroke="#3a3a3a" stroke-width="1" fill="none" stroke-linejoin="round"/>
<path d="M49.5,524.1 L51.1,523.6 L52.7,523.0 L54.2,522.1 L55.8,521.3 L57.4,520.9 L58.9,520.5 L60.5,520.3 L62.1,520.0 L63.7,519.7 L65.2,519.4 L66.8,519.3 L68.4,519.3 L69.9,519.2 L71.5,519.3 L73.1,519.2 L74.6,519.2 L76.2,519.1 L77.8,518.9 L79.4,518.8 L80.9,518.8 L82.5,518.6 L84.1,518.3 L85.6,518.1 L87.2,517.8 L88.8,517.4 L90.3,517.0 L91.9,516.7 L93.5,516.3 L95.1,516.1 L96.6,515.6 L98.2,514.8 L99.8,514.1 L101.3,513.3 L102.9,512.5 L104.5,511.8 L106.0,509.9 L107.6,507.8 L109.2,505.8 L110.7,504.0 L112.3,501.9 L113.9,499.7 L115.5,497.8 L117.0,496.1 L118.6,494.4 L120.2,492.7 L121.7,490.8 L123.3,488.8 L124.9,486.6 L126.4,484.1 L128.0,481.8 L129.6,479.8 L131.2,477.5 L132.7,475.3 L134.3,473.1 L135.9,470.9 L137.4,470.5 L139.0,469.9 L140.6,469.7 L142.1,469.2 L143.7,468.7 L145.3,468.2 L146.9,467.6 L148.4,467.0 L150.0,466.0 L151.6,465.4 L153.1,464.7 L154.7,463.9 L156.3,463.0 L157.8,462.5 L159.4,461.9 L161.0,461.0 L162.6,460.4 L164.1,459.9 L165.7,459.7 L167.3,459.3 L168.8,458.3 L170.4,457.7 L172.0,456.8 L173.5,455.7 L175.1,454.9 L176.7,454.2 L178.2,453.8 L179.8,453.4 L181.4,453.0 L183.0,452.4 L184.5,452.0 L186.1,452.2 L187.7,452.9 L189.2,453.7 L190.8,454.2 L192.4,454.9 L193.9,455.5 L195.5,455.9 L197.1,456.1 L198.7,455.7 L200.2,455.7 L201.8,455.4 L203.4,455.1 L204.9,455.3 L206.5,455.2 L208.1,454.8 L209.6,453.9 L211.2,453.0 L212.8,452.3 L214.4,451.8 L215.9,451.3 L217.5,450.7 L219.1,450.1 L220.6,449.3 L222.2,449.1 L223.8,448.8 L225.3,448.4 L226.9,448.3 L228.5,448.2 L230.1,448.8 L231.6,449.4 L233.2,450.6 L234.8,451.6 L236.3,452.3 L237.9,453.2 L239.5,454.3 L241.0,455.4 L242.6,456.5 L244.2,457.2 L245.8,458.1 L247.3,458.7 L248.9,458.9 L250.5,458.9 L252.0,458.9 L253.6,458.7 L255.2,458.5 L256.7,458.2 L258.3,458.0 L259.9,457.6 L261.4,457.5 L263.0,457.5 L264.6,457.3 L266.2,457.3 L267.7,457.2 L269.3,456.9 L270.9,457.0 L272.4,457.5 L274.0,458.1 L275.6,458.7 L277.1,459.2 L278.7,459.5 L280.3,459.7 L281.9,459.9 L283.4,459.8 L285.0,459.8 L286.6,459.8 L288.1,459.8 L289.7,459.3 L291.3,458.8 L292.8,457.8 L294.4,456.6 L296.0,455.2 L297.6,453.8 L299.1,452.4 L300.7,451.3 L302.3,450.0 L303.8,448.6 L305.4,447.2 L307.0,446.0 L308.5,444.7 L310.1,443.9 L311.7,443.3 L313.3,443.2 L314.8,443.0 L316.4,443.1 L318.0,443.1 L319.5,443.0 L321.1,443.3 L322.7,443.5 L324.2,443.8 L325.8,443.9 L327.4,444.0 L329.0,443.8 L330.5,444.0 L332.1,444.3 L333.7,444.3 L335.2,444.1 L336.8,443.9 L338.4,443.6 L339.9,443.3 L341.5,442.8 L343.1,442.6 L344.6,442.2 L346.2,441.9 L347.8,441.3 L349.4,440.3 L350.9,439.2 L352.5,437.8 L354.1,436.5 L355.6,435.3 L357.2,433.8 L358.8,432.5 L360.3,431.3 L361.9,429.4 L363.5,427.3 L365.1,425.4 L366.6,423.1 L368.2,420.8 L369.8,418.7 L371.3,416.3 L372.9,413.9 L374.5,411.5 L376.0,408.7 L377.6,405.3 L379.2,401.7 L380.8,398.7 L382.3,395.6 L383.9,392.9 L385.5,389.7 L387.0,386.5 L388.6,383.6 L390.2,380.4 L391.7,377.5 L393.3,375.1 L394.9,373.3 L396.5,372.0 L398.0,368.8 L399.6,365.7 L401.2,362.4 L402.7,359.4 L404.3,356.7 L405.9,353.5 L407.4,350.0 L409.0,346.5 L410.6,343.5 L412.2,339.7 L413.7,335.6 L415.3,332.3 L416.9,329.9 L418.4,326.3 L420.0,322.8 L421.6,320.3 L423.1,317.5 L424.7,314.6 L426.3,311.0 L427.8,306.8 L429.4,304.4 L431.0,301.6 L432.6,298.7 L434.1,296.2 L435.7,293.9 L437.3,291.8 L438.8,290.4 L440.4,289.6 L442.0,289.0 L443.5,289.6 L445.1,290.4 L446.7,290.5 L448.3,290.6 L449.8,291.4 L451.4,291.5 L453.0,291.4 L454.5,291.8 L456.1,292.0 L457.7,293.0 L459.2,294.0 L460.8,296.8 L462.4,299.5 L464.0,301.8 L465.5,304.1 L467.1,305.5 L468.7,306.0 L470.2,306.5 L471.8,307.0 L473.4,308.1 L474.9,308.1 L476.5,308.0 L478.1,307.1 L479.7,306.1 L481.2,305.5 L482.8,305.8 L484.4,305.5 L485.9,304.7 L487.5,304.0 L489.1,302.1 L490.6,300.3 L492.2,297.3 L493.8,294.5 L495.3,292.2 L496.9,289.4 L498.5,285.5 L500.1,282.1 L501.6,277.3 L503.2,272.1 L504.8,267.1 L506.3,262.8 L507.9,258.0 L509.5,253.6 L511.0,247.8 L512.6,242.2 L514.2,236.3 L515.8,230.5 L517.3,224.9 L518.9,218.7 L520.5,212.4 L522.0,205.5 L523.6,198.5 L525.2,191.0 L526.7,184.6 L528.3,178.8 L529.9,176.2 L531.5,172.6 L533.0,170.3 L534.6,168.7 L536.2,166.3 L537.7,163.6 L539.3,162.2 L540.9,160.0 L542.4,159.4 L544.0,158.1 L545.6,156.2 L547.2,153.8 L548.7,152.6 L550.3,151.9 L551.9,152.1 L553.4,153.1 L555.0,155.5 L556.6,158.1 L558.1,160.5 L559.7,161.0 L561.3,160.2 L562.9,162.4 L564.4,164.9 L566.0,166.9 L567.6,169.1 L569.1,172.9 L570.7,173.9 L572.3,177.4 L573.8,180.8 L575.4,185.8 L577.0,190.8 L578.5,197.3 L580.1,201.4 L581.7,205.9 L583.3,209.5 L584.8,211.3 L586.4,211.3 L588.0,211.0 L589.5,209.8 L591.1,208.6 L592.7,207.7 L594.2,205.1 L595.8,203.0 L597.4,200.1 L599.0,197.4 L600.5,192.9 L602.1,191.3 L603.7,189.8 L605.2,187.6 L606.8,186.2 L608.4,185.8 L609.9,184.3 L611.5,184.7 L613.1,184.4 L614.7,184.6 L616.2,184.4 L617.8,184.2 L619.4,184.9 L620.9,186.3 L622.5,189.0 L624.1,191.5 L625.6,193.4 L627.2,194.8 L628.8,197.2 L630.4,198.3 L631.9,199.1 L633.5,199.4 L635.1,198.7 L636.6,198.3 L638.2,196.7 L639.8,194.4 L641.3,191.5 L642.9,187.5 L644.5,183.6 L646.1,179.1 L647.6,176.2 L649.2,173.4 L650.8,170.5 L652.3,166.6 L653.9,163.7 L655.5,159.6 L657.0,156.1 L658.6,152.1 L660.2,147.1 L661.7,143.0 L663.3,140.0 L664.9,137.1 L666.5,133.4 L668.0,129.9 L669.6,125.5 L671.2,121.7 L672.7,119.9 L674.3,118.0 L675.9,116.5 L677.4,115.2 L679.0,112.9 L680.6,110.3 L682.2,107.9 L683.7,106.6 L685.3,103.6 L686.9,101.7 L688.4,99.9 L690.0,99.1 L691.6,99.8 L693.1,99.2 L694.7,98.0 L696.3,96.9 L697.9,96.8 L699.4,97.6 L701.0,98.4 L702.6,99.1 L704.1,98.1 L705.7,97.5 L707.3,96.8 L708.8,95.8 L710.4,95.9 L712.0,97.1 L713.6,98.7 L715.1,100.6 L716.7,102.2 L718.3,103.8 L719.8,106.1 L721.4,107.9 L723.0,109.7 L724.5,113.0 L726.1,115.8 L727.7,118.0 L729.2,118.4 L730.8,117.6 L732.4,117.1 L734.0,116.8 L735.5,116.9 L737.1,117.7 L738.7,118.1 L740.2,118.2 L741.8,117.4 L743.4,117.8 L744.9,117.6 L746.5,117.4 L748.1,118.5 L749.7,119.5 L751.2,119.2 L752.8,118.9 L754.4,117.6 L755.9,115.4 L757.5,112.4 L759.1,110.1 L760.6,109.6 L762.2,113.5 L763.8,115.5 L765.4,118.0 L766.9,120.3 L768.5,122.9 L770.1,126.9 L771.6,131.6 L773.2,136.1 L774.8,138.2 L776.3,140.0 L777.9,140.5 L779.5,140.5 L781.1,140.7 L782.6,140.8 L784.2,139.9 L785.8,139.6 L787.3,139.8 L788.9,141.1 L790.5,143.4 L792.0,145.7 L793.6,144.2 L795.2,143.8 L796.8,144.4 L798.3,144.4 L799.9,145.5 L801.5,145.6 L803.0,145.8 L804.6,148.5 L806.2,152.2" stroke="#3568ff" stroke-width="1.0" fill="none" stroke-linejoin="round"/>
<path d="M96.6,519.8 L98.2,519.2 L99.8,518.7 L101.3,518.1 L102.9,517.5 L104.5,517.0 L106.0,516.0 L107.6,515.0 L109.2,514.0 L110.7,513.1 L112.3,512.1 L113.9,511.2 L115.5,510.3 L117.0,509.4 L118.6,508.7 L120.2,507.8 L121.7,506.9 L123.3,506.0 L124.9,505.1 L126.4,504.0 L128.0,502.9 L129.6,501.7 L131.2,500.5 L132.7,499.3 L134.3,498.2 L135.9,497.0 L137.4,496.0 L139.0,494.9 L140.6,493.9 L142.1,492.9 L143.7,491.9 L145.3,490.7 L146.9,489.6 L148.4,488.5 L150.0,487.3 L151.6,486.2 L153.1,485.1 L154.7,484.0 L156.3,482.7 L157.8,481.4 L159.4,480.1 L161.0,478.6 L162.6,477.3 L164.1,476.1 L165.7,474.9 L167.3,473.8 L168.8,472.5 L170.4,471.3 L172.0,470.1 L173.5,468.8 L175.1,467.6 L176.7,466.5 L178.2,465.5 L179.8,464.6 L181.4,463.5 L183.0,462.5 L184.5,462.0 L186.1,461.7 L187.7,461.5 L189.2,461.3 L190.8,461.0 L192.4,460.7 L193.9,460.4 L195.5,460.0 L197.1,459.6 L198.7,459.0 L200.2,458.5 L201.8,457.9 L203.4,457.5 L204.9,457.3 L206.5,457.0 L208.1,456.5 L209.6,456.1 L211.2,455.7 L212.8,455.3 L214.4,454.8 L215.9,454.3 L217.5,454.0 L219.1,453.7 L220.6,453.4 L222.2,453.2 L223.8,452.9 L225.3,452.7 L226.9,452.6 L228.5,452.5 L230.1,452.4 L231.6,452.4 L233.2,452.6 L234.8,452.9 L236.3,453.1 L237.9,453.5 L239.5,453.8 L241.0,454.1 L242.6,454.3 L244.2,454.3 L245.8,454.3 L247.3,454.5 L248.9,454.5 L250.5,454.5 L252.0,454.6 L253.6,454.7 L255.2,454.7 L256.7,454.5 L258.3,454.4 L259.9,454.3 L261.4,454.4 L263.0,454.6 L264.6,454.6 L266.2,454.7 L267.7,454.5 L269.3,454.5 L270.9,454.7 L272.4,454.9 L274.0,455.1 L275.6,455.3 L277.1,455.8 L278.7,456.0 L280.3,456.3 L281.9,456.4 L283.4,456.4 L285.0,456.5 L286.6,456.7 L288.1,456.8 L289.7,456.9 L291.3,456.9 L292.8,456.8 L294.4,456.7 L296.0,456.4 L297.6,456.2 L299.1,455.8 L300.7,455.4 L302.3,455.2 L303.8,455.0 L305.4,454.7 L307.0,454.4 L308.5,454.1 L310.1,453.8 L311.7,453.3 L313.3,453.1 L314.8,452.7 L316.4,452.5 L318.0,452.2 L319.5,451.9 L321.1,451.6 L322.7,451.4 L324.2,451.1 L325.8,450.8 L327.4,450.5 L329.0,450.1 L330.5,449.8 L332.1,449.7 L333.7,449.5 L335.2,449.4 L336.8,449.1 L338.4,448.8 L339.9,448.4 L341.5,447.9 L343.1,447.5 L344.6,447.0 L346.2,446.6 L347.8,446.2 L349.4,445.5 L350.9,444.5 L352.5,443.5 L354.1,442.5 L355.6,441.5 L357.2,440.5 L358.8,439.6 L360.3,438.7 L361.9,437.7 L363.5,436.7 L365.1,435.7 L366.6,434.7 L368.2,433.7 L369.8,432.8 L371.3,431.9 L372.9,430.8 L374.5,430.0 L376.0,429.0 L377.6,427.8 L379.2,426.4 L380.8,425.0 L382.3,423.3 L383.9,421.8 L385.5,420.0 L387.0,418.2 L388.6,416.4 L390.2,414.4 L391.7,412.4 L393.3,410.5 L394.9,408.8 L396.5,407.3 L398.0,405.0 L399.6,402.6 L401.2,400.3 L402.7,398.1 L404.3,396.0 L405.9,393.8 L407.4,391.4 L409.0,388.8 L410.6,386.1 L412.2,383.2 L413.7,380.0 L415.3,377.2 L416.9,374.5 L418.4,371.4 L420.0,368.4 L421.6,365.5 L423.1,362.5 L424.7,359.6 L426.3,356.7 L427.8,353.9 L429.4,351.1 L431.0,348.2 L432.6,345.2 L434.1,342.5 L435.7,340.0 L437.3,337.5 L438.8,335.1 L440.4,332.9 L442.0,330.7 L443.5,328.8 L445.1,326.9 L446.7,325.0 L448.3,323.3 L449.8,321.5 L451.4,319.4 L453.0,317.5 L454.5,315.8 L456.1,314.2 L457.7,313.2 L459.2,312.0 L460.8,311.5 L462.4,310.8 L464.0,310.1 L465.5,309.5 L467.1,308.7 L468.7,307.7 L470.2,306.6 L471.8,305.6 L473.4,304.6 L474.9,303.3 L476.5,302.5 L478.1,301.6 L479.7,300.7 L481.2,299.9 L482.8,299.1 L484.4,298.3 L485.9,297.7 L487.5,297.2 L489.1,296.6 L490.6,296.2 L492.2,296.2 L493.8,295.7 L495.3,295.0 L496.9,294.8 L498.5,293.8 L500.1,292.5 L501.6,290.6 L503.2,288.6 L504.8,287.1 L506.3,285.7 L507.9,284.0 L509.5,282.4 L511.0,280.4 L512.6,278.3 L514.2,276.0 L515.8,273.7 L517.3,271.5 L518.9,268.9 L520.5,265.9 L522.0,262.6 L523.6,259.4 L525.2,255.9 L526.7,252.6 L528.3,249.7 L529.9,247.7 L531.5,244.9 L533.0,242.0 L534.6,239.3 L536.2,236.4 L537.7,233.5 L539.3,230.1 L540.9,226.6 L542.4,223.4 L544.0,219.9 L545.6,216.3 L547.2,212.9 L548.7,210.0 L550.3,206.9 L551.9,203.5 L553.4,200.6 L555.0,198.4 L556.6,196.3 L558.1,194.3 L559.7,191.9 L561.3,189.4 L562.9,187.7 L564.4,186.1 L566.0,184.5 L567.6,183.2 L569.1,182.6 L570.7,180.8 L572.3,179.7 L573.8,178.9 L575.4,178.5 L577.0,178.4 L578.5,179.0 L580.1,179.6 L581.7,180.4 L583.3,180.5 L584.8,180.0 L586.4,179.8 L588.0,179.3 L589.5,179.1 L591.1,178.5 L592.7,178.0 L594.2,177.5 L595.8,177.3 L597.4,177.0 L599.0,177.2 L600.5,177.5 L602.1,177.9 L603.7,179.2 L605.2,180.0 L606.8,181.4 L608.4,182.3 L609.9,183.6 L611.5,185.4 L613.1,186.6 L614.7,187.8 L616.2,188.3 L617.8,188.6 L619.4,189.2 L620.9,189.9 L622.5,190.8 L624.1,192.1 L625.6,193.4 L627.2,194.2 L628.8,195.2 L630.4,195.7 L631.9,195.9 L633.5,195.5 L635.1,195.5 L636.6,195.2 L638.2,195.7 L639.8,196.0 L641.3,195.3 L642.9,194.4 L644.5,193.3 L646.1,191.8 L647.6,189.7 L649.2,188.4 L650.8,186.5 L652.3,184.3 L653.9,182.0 L655.5,179.7 L657.0,176.9 L658.6,174.5 L660.2,171.7 L661.7,169.1 L663.3,167.4 L664.9,165.8 L666.5,164.4 L668.0,163.3 L669.6,162.4 L671.2,161.6 L672.7,161.2 L674.3,160.4 L675.9,159.9 L677.4,158.9 L679.0,157.7 L680.6,156.0 L682.2,153.8 L683.7,151.9 L685.3,148.9 L686.9,146.0 L688.4,143.1 L690.0,140.3 L691.6,137.8 L693.1,135.0 L694.7,132.9 L696.3,130.8 L697.9,129.2 L699.4,127.8 L701.0,126.2 L702.6,124.6 L704.1,123.1 L705.7,121.5 L707.3,119.7 L708.8,117.9 L710.4,116.4 L712.0,115.0 L713.6,113.8 L715.1,112.8 L716.7,111.1 L718.3,109.8 L719.8,109.0 L721.4,108.4 L723.0,108.2 L724.5,108.5 L726.1,108.7 L727.7,108.7 L729.2,108.3 L730.8,108.2 L732.4,107.6 L734.0,107.5 L735.5,107.4 L737.1,107.7 L738.7,108.1 L740.2,108.0 L741.8,107.3 L743.4,107.3 L744.9,107.4 L746.5,107.8 L748.1,108.4 L749.7,108.9 L751.2,108.7 L752.8,108.8 L754.4,108.7 L755.9,108.6 L757.5,108.5 L759.1,108.6 L760.6,109.0 L762.2,110.9 L763.8,112.3 L765.4,114.0 L766.9,115.6 L768.5,117.2 L770.1,118.9 L771.6,121.0 L773.2,122.5 L774.8,123.8 L776.3,124.7 L777.9,124.9 L779.5,125.2 L781.1,125.5 L782.6,125.7 L784.2,125.7 L785.8,125.8 L787.3,126.2 L788.9,126.6 L790.5,127.2 L792.0,127.8 L793.6,128.4 L795.2,129.0 L796.8,130.2 L798.3,130.9 L799.9,132.2 L801.5,133.3 L803.0,134.1 L804.6,135.6 L806.2,137.5" stroke="#ff1e1e" stroke-width="1.0" fill="none" stroke-linejoin="round"/>
<path d="M29.1,531.0 L30.7,530.2 L32.3,529.0 L33.8,527.3 L35.4,525.4 L37.0,523.8 L38.5,522.5 L40.1,521.9 L41.7,521.6 L43.2,521.0 L44.8,520.4 L46.4,519.7 L48.0,519.3 L49.5,519.0 L51.1,518.8 L52.7,518.5 L54.2,518.1 L55.8,518.3 L57.4,518.9 L58.9,519.7 L60.5,520.1 L62.1,520.0 L63.7,519.7 L65.2,519.5 L66.8,519.5 L68.4,519.2 L69.9,518.9 L71.5,519.2 L73.1,519.2 L74.6,519.4 L76.2,519.5 L77.8,518.6 L79.4,518.0 L80.9,517.6 L82.5,516.9 L84.1,516.0 L85.6,515.0 L87.2,514.6 L88.8,514.6 L90.3,514.4 L91.9,514.1 L93.5,513.4 L95.1,513.1 L96.6,512.6 L98.2,511.0 L99.8,509.8 L101.3,508.4 L102.9,507.2 L104.5,506.3 L106.0,501.8 L107.6,497.2 L109.2,492.8 L110.7,489.4 L112.3,484.9 L113.9,480.4 L115.5,475.9 L117.0,475.5 L118.6,476.3 L120.2,477.1 L121.7,476.6 L123.3,476.8 L124.9,475.9 L126.4,473.9 L128.0,471.8 L129.6,469.1 L131.2,466.4 L132.7,464.1 L134.3,462.3 L135.9,461.7 L137.4,462.9 L139.0,463.3 L140.6,464.1 L142.1,465.7 L143.7,466.1 L145.3,466.4 L146.9,466.3 L148.4,465.5 L150.0,465.2 L151.6,464.7 L153.1,463.8 L154.7,463.0 L156.3,461.2 L157.8,459.5 L159.4,457.2 L161.0,454.6 L162.6,452.1 L164.1,450.5 L165.7,450.2 L167.3,451.0 L168.8,450.8 L170.4,451.4 L172.0,452.2 L173.5,452.4 L175.1,451.7 L176.7,450.6 L178.2,450.8 L179.8,451.4 L181.4,451.8 L183.0,452.0 L184.5,453.1 L186.1,455.3 L187.7,457.4 L189.2,459.2 L190.8,459.6 L192.4,460.0 L193.9,461.0 L195.5,461.7 L197.1,461.3 L198.7,458.9 L200.2,456.4 L201.8,454.7 L203.4,453.0 L204.9,451.7 L206.5,449.8 L208.1,447.0 L209.6,445.8 L211.2,443.9 L212.8,443.1 L214.4,442.4 L215.9,441.9 L217.5,442.2 L219.1,443.9 L220.6,446.0 L222.2,448.3 L223.8,449.9 L225.3,451.5 L226.9,453.1 L228.5,454.3 L230.1,455.4 L231.6,456.9 L233.2,458.9 L234.8,460.9 L236.3,462.7 L237.9,463.7 L239.5,464.5 L241.0,464.7 L242.6,464.1 L244.2,462.1 L245.8,461.1 L247.3,460.1 L248.9,458.7 L250.5,457.0 L252.0,455.8 L253.6,454.6 L255.2,453.6 L256.7,451.8 L258.3,451.1 L259.9,450.3 L261.4,451.3 L263.0,452.9 L264.6,454.8 L266.2,457.6 L267.7,459.7 L269.3,460.6 L270.9,462.9 L272.4,464.8 L274.0,465.7 L275.6,466.2 L277.1,466.5 L278.7,466.8 L280.3,466.9 L281.9,465.2 L283.4,462.4 L285.0,459.5 L286.6,456.7 L288.1,453.5 L289.7,450.4 L291.3,447.7 L292.8,445.3 L294.4,443.6 L296.0,441.8 L297.6,440.4 L299.1,438.6 L300.7,437.7 L302.3,437.7 L303.8,438.7 L305.4,439.0 L307.0,439.9 L308.5,440.5 L310.1,442.4 L311.7,444.0 L313.3,445.7 L314.8,446.3 L316.4,447.8 L318.0,448.4 L319.5,448.7 L321.1,448.8 L322.7,448.3 L324.2,447.0 L325.8,446.1 L327.4,444.3 L329.0,442.5 L330.5,441.4 L332.1,440.6 L333.7,439.9 L335.2,439.5 L336.8,439.0 L338.4,438.8 L339.9,439.1 L341.5,439.1 L343.1,439.1 L344.6,439.8 L346.2,440.2 L347.8,440.3 L349.4,438.9 L350.9,437.0 L352.5,434.5 L354.1,431.0 L355.6,427.3 L357.2,422.9 L358.8,419.3 L360.3,416.7 L361.9,413.4 L363.5,410.7 L365.1,408.0 L366.6,404.6 L368.2,401.8 L369.8,399.2 L371.3,396.4 L372.9,394.7 L374.5,393.7 L376.0,392.1 L377.6,389.6 L379.2,385.6 L380.8,381.8 L382.3,377.8 L383.9,374.3 L385.5,368.7 L387.0,363.9 L388.6,360.8 L390.2,358.4 L391.7,356.1 L393.3,354.8 L394.9,354.9 L396.5,357.3 L398.0,354.1 L399.6,350.6 L401.2,347.9 L402.7,344.7 L404.3,342.1 L405.9,337.0 L407.4,329.3 L409.0,325.8 L410.6,322.1 L412.2,317.1 L413.7,309.8 L415.3,304.7 L416.9,301.2 L418.4,296.2 L420.0,293.2 L421.6,292.2 L423.1,292.6 L424.7,294.8 L426.3,293.9 L427.8,291.5 L429.4,291.7 L431.0,289.9 L432.6,286.3 L434.1,283.8 L435.7,282.9 L437.3,282.4 L438.8,282.4 L440.4,283.4 L442.0,286.2 L443.5,290.9 L445.1,293.3 L446.7,294.9 L448.3,297.5 L449.8,299.3 L451.4,298.7 L453.0,299.1 L454.5,299.0 L456.1,299.3 L457.7,300.9 L459.2,301.3 L460.8,306.9 L462.4,312.7 L464.0,315.7 L465.5,319.0 L467.1,321.5 L468.7,319.6 L470.2,318.0 L471.8,312.7 L473.4,310.8 L474.9,309.1 L476.5,304.3 L478.1,299.3 L479.7,297.9 L481.2,296.5 L482.8,295.3 L484.4,291.7 L485.9,289.3 L487.5,288.0 L489.1,286.7 L490.6,284.7 L492.2,283.6 L493.8,280.5 L495.3,277.6 L496.9,275.2 L498.5,268.7 L500.1,262.6 L501.6,252.4 L503.2,240.7 L504.8,232.5 L506.3,225.1 L507.9,214.6 L509.5,208.1 L511.0,199.7 L512.6,196.0 L514.2,192.9 L515.8,187.0 L517.3,181.1 L518.9,175.8 L520.5,168.9 L522.0,164.0 L523.6,158.8 L525.2,151.1 L526.7,146.4 L528.3,143.5 L529.9,147.2 L531.5,149.0 L533.0,151.9 L534.6,155.5 L536.2,161.8 L537.7,165.2 L539.3,167.2 L540.9,161.9 L542.4,162.0 L544.0,161.1 L545.6,157.3 L547.2,151.3 L548.7,149.7 L550.3,146.3 L551.9,146.2 L553.4,145.9 L555.0,151.2 L556.6,156.6 L558.1,165.5 L559.7,167.5 L561.3,170.9 L562.9,178.3 L564.4,185.7 L566.0,188.3 L567.6,193.2 L569.1,200.6 L570.7,204.0 L572.3,211.0 L573.8,214.6 L575.4,220.8 L577.0,225.4 L578.5,232.0 L580.1,231.4 L581.7,237.8 L583.3,237.9 L584.8,233.2 L586.4,224.0 L588.0,214.3 L589.5,200.9 L591.1,187.9 L592.7,176.2 L594.2,166.0 L595.8,162.0 L597.4,156.2 L599.0,154.3 L600.5,152.3 L602.1,154.6 L603.7,159.7 L605.2,164.4 L606.8,172.6 L608.4,184.7 L609.9,194.7 L611.5,208.0 L613.1,218.0 L614.7,223.0 L616.2,224.2 L617.8,218.4 L619.4,211.7 L620.9,206.7 L622.5,200.1 L624.1,196.5 L625.6,191.4 L627.2,191.8 L628.8,193.4 L630.4,192.4 L631.9,188.9 L633.5,184.5 L635.1,180.3 L636.6,178.5 L638.2,177.9 L639.8,176.6 L641.3,175.6 L642.9,174.8 L644.5,172.9 L646.1,166.9 L647.6,161.1 L649.2,151.8 L650.8,143.5 L652.3,135.5 L653.9,132.0 L655.5,127.9 L657.0,125.8 L658.6,123.0 L660.2,118.3 L661.7,113.8 L663.3,113.0 L664.9,108.4 L666.5,105.3 L668.0,103.5 L669.6,101.8 L671.2,104.1 L672.7,109.7 L674.3,111.9 L675.9,114.2 L677.4,115.0 L679.0,112.3 L680.6,108.4 L682.2,104.0 L683.7,97.5 L685.3,90.8 L686.9,85.5 L688.4,81.9 L690.0,83.8 L691.6,88.4 L693.1,88.7 L694.7,88.3 L696.3,89.2 L697.9,91.4 L699.4,97.0 L701.0,99.7 L702.6,102.2 L704.1,106.8 L705.7,110.5 L707.3,113.9 L708.8,112.2 L710.4,107.5 L712.0,104.6 L713.6,102.8 L715.1,104.5 L716.7,104.1 L718.3,105.6 L719.8,111.3 L721.4,118.1 L723.0,124.4 L724.5,129.6 L726.1,131.9 L727.7,134.3 L729.2,133.1 L730.8,129.9 L732.4,125.8 L734.0,122.4 L735.5,117.9 L737.1,116.0 L738.7,114.1 L740.2,111.6 L741.8,106.8 L743.4,106.7 L744.9,105.1 L746.5,105.9 L748.1,106.5 L749.7,109.9 L751.2,114.2 L752.8,122.4 L754.4,123.7 L755.9,123.3 L757.5,117.5 L759.1,110.2 L760.6,104.6 L762.2,113.8 L763.8,116.2 L765.4,123.5 L766.9,132.0 L768.5,146.1 L770.1,162.0 L771.6,174.5 L773.2,171.1 L774.8,171.3 L776.3,168.1 L777.9,163.5 L779.5,156.8 L781.1,149.3 L782.6,140.6 L784.2,133.3 L785.8,127.7 L787.3,122.8 L788.9,119.4 L790.5,118.5 L792.0,119.0 L793.6,123.5 L795.2,127.4 L796.8,137.5 L798.3,144.9 L799.9,158.5 L801.5,168.1 L803.0,174.9 L804.6,183.3 L806.2,195.3" stroke="#1a8f1a" stroke-width="1.0" fill="none" stroke-linejoin="round"/>
<path d="M175.1,493.7 L176.7,492.9 L178.2,492.1 L179.8,491.3 L181.4,490.5 L183.0,489.7 L184.5,489.0 L186.1,488.4 L187.7,487.8 L189.2,487.2 L190.8,486.6 L192.4,485.9 L193.9,485.3 L195.5,484.7 L197.1,484.1 L198.7,483.4 L200.2,482.7 L201.8,482.0 L203.4,481.3 L204.9,480.6 L206.5,479.9 L208.1,479.1 L209.6,478.3 L211.2,477.5 L212.8,476.7 L214.4,475.9 L215.9,475.2 L217.5,474.5 L219.1,473.8 L220.6,473.1 L222.2,472.5 L223.8,471.8 L225.3,471.2 L226.9,470.6 L228.5,469.9 L230.1,469.3 L231.6,468.8 L233.2,468.3 L234.8,467.8 L236.3,467.3 L237.9,466.8 L239.5,466.2 L241.0,465.7 L242.6,465.2 L244.2,464.6 L245.8,464.1 L247.3,463.5 L248.9,462.9 L250.5,462.3 L252.0,461.7 L253.6,461.1 L255.2,460.6 L256.7,460.0 L258.3,459.5 L259.9,458.9 L261.4,458.4 L263.0,458.3 L264.6,458.2 L266.2,458.1 L267.7,457.9 L269.3,457.8 L270.9,457.7 L272.4,457.7 L274.0,457.6 L275.6,457.5 L277.1,457.4 L278.7,457.2 L280.3,457.1 L281.9,456.9 L283.4,456.8 L285.0,456.7 L286.6,456.6 L288.1,456.5 L289.7,456.3 L291.3,456.1 L292.8,455.8 L294.4,455.5 L296.0,455.2 L297.6,454.9 L299.1,454.6 L300.7,454.3 L302.3,454.1 L303.8,453.9 L305.4,453.6 L307.0,453.4 L308.5,453.2 L310.1,453.1 L311.7,453.0 L313.3,453.0 L314.8,452.9 L316.4,453.0 L318.0,453.0 L319.5,453.0 L321.1,453.0 L322.7,452.8 L324.2,452.7 L325.8,452.6 L327.4,452.5 L329.0,452.3 L330.5,452.2 L332.1,452.2 L333.7,452.1 L335.2,451.9 L336.8,451.7 L338.4,451.6 L339.9,451.4 L341.5,451.2 L343.1,451.0 L344.6,450.8 L346.2,450.6 L347.8,450.4 L349.4,450.1 L350.9,449.7 L352.5,449.3 L354.1,448.9 L355.6,448.6 L357.2,448.2 L358.8,447.9 L360.3,447.6 L361.9,447.1 L363.5,446.6 L365.1,446.2 L366.6,445.7 L368.2,445.3 L369.8,444.8 L371.3,444.3 L372.9,443.8 L374.5,443.2 L376.0,442.6 L377.6,441.8 L379.2,440.9 L380.8,440.1 L382.3,439.2 L383.9,438.2 L385.5,437.2 L387.0,436.2 L388.6,435.1 L390.2,433.9 L391.7,432.7 L393.3,431.6 L394.9,430.6 L396.5,429.7 L398.0,428.4 L399.6,427.1 L401.2,425.9 L402.7,424.6 L404.3,423.4 L405.9,422.1 L407.4,420.8 L409.0,419.3 L410.6,417.9 L412.2,416.3 L413.7,414.7 L415.3,413.1 L416.9,411.7 L418.4,409.9 L420.0,408.1 L421.6,406.5 L423.1,404.8 L424.7,403.1 L426.3,401.4 L427.8,399.7 L429.4,397.8 L431.0,395.8 L432.6,393.9 L434.1,392.0 L435.7,390.2 L437.3,388.5 L438.8,386.9 L440.4,385.3 L442.0,383.7 L443.5,382.3 L445.1,380.8 L446.7,379.4 L448.3,378.0 L449.8,376.7 L451.4,375.1 L453.0,373.7 L454.5,372.4 L456.1,371.0 L457.7,369.8 L459.2,368.5 L460.8,367.4 L462.4,366.3 L464.0,365.0 L465.5,363.9 L467.1,362.6 L468.7,361.1 L470.2,359.5 L471.8,358.1 L473.4,356.7 L474.9,355.3 L476.5,353.8 L478.1,352.1 L479.7,350.5 L481.2,349.0 L482.8,347.5 L484.4,346.0 L485.9,344.6 L487.5,343.0 L489.1,341.3 L490.6,339.7 L492.2,338.1 L493.8,336.4 L495.3,334.7 L496.9,333.1 L498.5,331.1 L500.1,329.0 L501.6,326.6 L503.2,324.1 L504.8,321.9 L506.3,319.8 L507.9,317.5 L509.5,315.3 L511.0,312.8 L512.6,310.4 L514.2,308.0 L515.8,305.6 L517.3,303.3 L518.9,300.9 L520.5,298.3 L522.0,295.7 L523.6,293.2 L525.2,290.5 L526.7,287.9 L528.3,285.6 L529.9,283.6 L531.5,281.2 L533.0,278.9 L534.6,276.8 L536.2,274.8 L537.7,272.8 L539.3,270.8 L540.9,268.7 L542.4,266.7 L544.0,264.7 L545.6,262.5 L547.2,260.3 L548.7,258.3 L550.3,256.2 L551.9,254.1 L553.4,251.9 L555.0,250.5 L556.6,249.0 L558.1,247.5 L559.7,245.9 L561.3,244.3 L562.9,243.0 L564.4,241.9 L566.0,240.9 L567.6,239.9 L569.1,239.4 L570.7,238.5 L572.3,237.7 L573.8,236.9 L575.4,236.6 L577.0,236.1 L578.5,235.7 L580.1,235.1 L581.7,234.5 L583.3,233.8 L584.8,232.8 L586.4,231.9 L588.0,230.8 L589.5,229.7 L591.1,228.4 L592.7,227.0 L594.2,225.6 L595.8,224.4 L597.4,223.0 L599.0,221.6 L600.5,220.0 L602.1,218.7 L603.7,217.6 L605.2,216.3 L606.8,215.6 L608.4,215.0 L609.9,214.3 L611.5,213.7 L613.1,213.0 L614.7,212.1 L616.2,210.9 L617.8,209.4 L619.4,207.9 L620.9,206.7 L622.5,205.4 L624.1,204.2 L625.6,203.1 L627.2,202.1 L628.8,201.0 L630.4,199.6 L631.9,198.3 L633.5,197.0 L635.1,195.9 L636.6,194.8 L638.2,193.8 L639.8,192.7 L641.3,191.5 L642.9,190.2 L644.5,188.9 L646.1,187.5 L647.6,186.1 L649.2,184.6 L650.8,183.1 L652.3,181.6 L653.9,180.2 L655.5,179.0 L657.0,177.9 L658.6,177.1 L660.2,176.0 L661.7,174.8 L663.3,173.7 L664.9,172.8 L666.5,171.9 L668.0,171.2 L669.6,170.5 L671.2,169.8 L672.7,169.4 L674.3,168.9 L675.9,168.5 L677.4,168.1 L679.0,167.6 L680.6,166.9 L682.2,166.5 L683.7,166.0 L685.3,165.2 L686.9,164.1 L688.4,163.4 L690.0,162.8 L691.6,162.2 L693.1,161.4 L694.7,160.6 L696.3,159.7 L697.9,159.2 L699.4,158.8 L701.0,158.5 L702.6,158.4 L704.1,158.3 L705.7,157.8 L707.3,157.4 L708.8,156.8 L710.4,156.1 L712.0,155.3 L713.6,154.6 L715.1,154.0 L716.7,153.4 L718.3,152.9 L719.8,152.1 L721.4,151.4 L723.0,150.8 L724.5,150.2 L726.1,149.2 L727.7,148.5 L729.2,147.4 L730.8,146.2 L732.4,144.8 L734.0,143.6 L735.5,142.2 L737.1,141.1 L738.7,139.9 L740.2,138.6 L741.8,137.4 L743.4,136.6 L744.9,135.9 L746.5,135.5 L748.1,135.4 L749.7,135.2 L751.2,134.9 L752.8,134.6 L754.4,134.3 L755.9,133.8 L757.5,133.1 L759.1,132.3 L760.6,131.4 L762.2,131.4 L763.8,130.6 L765.4,130.0 L766.9,129.4 L768.5,128.7 L770.1,128.4 L771.6,128.0 L773.2,127.7 L774.8,127.3 L776.3,127.0 L777.9,126.3 L779.5,125.7 L781.1,125.1 L782.6,124.4 L784.2,123.6 L785.8,122.7 L787.3,122.1 L788.9,121.5 L790.5,121.1 L792.0,120.8 L793.6,120.6 L795.2,120.1 L796.8,120.0 L798.3,119.9 L799.9,120.3 L801.5,120.8 L803.0,121.3 L804.6,122.1 L806.2,123.1" stroke="#ff7d1a" stroke-width="1.0" fill="none" stroke-linejoin="round"/>
<path d="M21.3,531.4 L22.8,532.4 L24.4,533.0 L26.0,532.5 L27.5,532.0 L29.1,531.0 L30.7,530.2 L32.3,529.5 L33.8,528.8 L35.4,528.2 L37.0,527.4 L38.5,526.9 L40.1,526.5 L41.7,526.2 L43.2,525.8 L44.8,525.4 L46.4,524.9 L48.0,524.4 L49.5,524.1 L51.1,523.9 L52.7,523.7 L54.2,523.5 L55.8,523.3 L57.4,523.2 L58.9,523.2 L60.5,523.1 L62.1,522.9 L63.7,522.8 L65.2,522.5 L66.8,522.4 L68.4,522.3 L69.9,522.3 L71.5,522.3 L73.1,522.2 L74.6,522.1 L76.2,522.0 L77.8,521.7 L79.4,521.6 L80.9,521.4 L82.5,521.3 L84.1,521.2 L85.6,520.9 L87.2,520.8 L88.8,520.6 L90.3,520.5 L91.9,520.4 L93.5,520.2 L95.1,520.0 L96.6,519.8 L98.2,519.4 L99.8,519.2 L101.3,518.9 L102.9,518.6 L104.5,518.4 L106.0,517.7 L107.6,517.0 L109.2,516.2 L110.7,515.6 L112.3,514.9 L113.9,514.3 L115.5,513.6 L117.0,513.0 L118.6,512.6 L120.2,512.0 L121.7,511.5 L123.3,510.9 L124.9,510.3 L126.4,509.6 L128.0,508.9 L129.6,508.3 L131.2,507.6 L132.7,506.9 L134.3,506.3 L135.9,505.8 L137.4,505.3 L139.0,504.8 L140.6,504.3 L142.1,503.9 L143.7,503.4 L145.3,502.9 L146.9,502.4 L148.4,501.9 L150.0,501.5 L151.6,501.0 L153.1,500.6 L154.7,500.1 L156.3,499.6 L157.8,499.0 L159.4,498.5 L161.0,497.9 L162.6,497.3 L164.1,496.8 L165.7,496.4 L167.3,496.0 L168.8,495.5 L170.4,495.1 L172.0,494.6 L173.5,494.1 L175.1,493.7 L176.7,493.2 L178.2,492.9 L179.8,492.5 L181.4,492.2 L183.0,491.8 L184.5,491.4 L186.1,491.2 L187.7,490.9 L189.2,490.7 L190.8,490.4 L192.4,490.1 L193.9,489.9 L195.5,489.6 L197.1,489.3 L198.7,489.0 L200.2,488.6 L201.8,488.3 L203.4,487.9 L204.9,487.6 L206.5,487.3 L208.1,486.9 L209.6,486.5 L211.2,486.1 L212.8,485.7 L214.4,485.4 L215.9,485.1 L217.5,484.8 L219.1,484.5 L220.6,484.3 L222.2,484.1 L223.8,483.8 L225.3,483.6 L226.9,483.4 L228.5,483.2 L230.1,483.0 L231.6,482.9 L233.2,482.8 L234.8,482.7 L236.3,482.5 L237.9,482.4 L239.5,482.3 L241.0,482.1 L242.6,482.0 L244.2,481.8 L245.8,481.6 L247.3,481.4 L248.9,481.3 L250.5,481.1 L252.0,480.9 L253.6,480.7 L255.2,480.5 L256.7,480.2 L258.3,480.1 L259.9,479.9 L261.4,479.7 L263.0,479.6 L264.6,479.5 L266.2,479.4 L267.7,479.3 L269.3,479.2 L270.9,479.1 L272.4,479.1 L274.0,479.0 L275.6,479.0 L277.1,478.9 L278.7,478.8 L280.3,478.7 L281.9,478.5 L283.4,478.4 L285.0,478.2 L286.6,478.0 L288.1,477.9 L289.7,477.7 L291.3,477.4 L292.8,477.2 L294.4,477.0 L296.0,476.8 L297.6,476.6 L299.1,476.3 L300.7,476.1 L302.3,475.9 L303.8,475.7 L305.4,475.5 L307.0,475.4 L308.5,475.2 L310.1,475.1 L311.7,474.9 L313.3,474.8 L314.8,474.6 L316.4,474.5 L318.0,474.4 L319.5,474.2 L321.1,474.1 L322.7,473.9 L324.2,473.8 L325.8,473.6 L327.4,473.4 L329.0,473.3 L330.5,473.1 L332.1,472.9 L333.7,472.5 L335.2,472.0 L336.8,471.5 L338.4,471.0 L339.9,470.6 L341.5,470.1 L343.1,469.7 L344.6,469.3 L346.2,468.9 L347.8,468.5 L349.4,468.0 L350.9,467.5 L352.5,467.0 L354.1,466.5 L355.6,466.0 L357.2,465.5 L358.8,464.9 L360.3,464.4 L361.9,463.8 L363.5,463.2 L365.1,462.6 L366.6,462.0 L368.2,461.4 L369.8,460.8 L371.3,460.1 L372.9,459.5 L374.5,458.8 L376.0,458.2 L377.6,457.5 L379.2,456.7 L380.8,456.0 L382.3,455.2 L383.9,454.4 L385.5,453.6 L387.0,452.7 L388.6,451.9 L390.2,451.1 L391.7,450.3 L393.3,449.5 L394.9,448.7 L396.5,448.0 L398.0,447.1 L399.6,446.2 L401.2,445.2 L402.7,444.3 L404.3,443.4 L405.9,442.5 L407.4,441.5 L409.0,440.5 L410.6,439.5 L412.2,438.5 L413.7,437.3 L415.3,436.3 L416.9,435.3 L418.4,434.2 L420.0,433.2 L421.6,432.3 L423.1,431.4 L424.7,430.5 L426.3,429.6 L427.8,428.7 L429.4,427.7 L431.0,426.7 L432.6,425.7 L434.1,424.7 L435.7,423.7 L437.3,422.8 L438.8,421.9 L440.4,421.1 L442.0,420.2 L443.5,419.4 L445.1,418.6 L446.7,417.8 L448.3,417.0 L449.8,416.2 L451.4,415.3 L453.0,414.5 L454.5,413.7 L456.1,412.8 L457.7,412.0 L459.2,411.3 L460.8,410.6 L462.4,410.0 L464.0,409.2 L465.5,408.6 L467.1,407.8 L468.7,407.0 L470.2,406.3 L471.8,405.5 L473.4,404.8 L474.9,404.1 L476.5,403.4 L478.1,402.5 L479.7,401.7 L481.2,400.9 L482.8,400.1 L484.4,399.3 L485.9,398.4 L487.5,397.6 L489.1,396.8 L490.6,395.9 L492.2,395.0 L493.8,394.1 L495.3,393.2 L496.9,392.3 L498.5,391.2 L500.1,390.0 L501.6,388.7 L503.2,387.4 L504.8,386.1 L506.3,384.9 L507.9,383.6 L509.5,382.3 L511.0,380.9 L512.6,379.5 L514.2,378.1 L515.8,376.8 L517.3,375.4 L518.9,374.0 L520.5,372.5 L522.0,370.9 L523.6,369.5 L525.2,367.9 L526.7,366.4 L528.3,365.0 L529.9,363.7 L531.5,362.2 L533.0,360.7 L534.6,359.3 L536.2,357.9 L537.7,356.4 L539.3,355.0 L540.9,353.5 L542.4,352.0 L544.0,350.4 L545.6,348.8 L547.2,347.1 L548.7,345.5 L550.3,343.9 L551.9,342.4 L553.4,340.8 L555.0,339.5 L556.6,338.0 L558.1,336.7 L559.7,335.2 L561.3,333.8 L562.9,332.5 L564.4,331.3 L566.0,330.1 L567.6,328.9 L569.1,327.9 L570.7,326.6 L572.3,325.4 L573.8,324.3 L575.4,323.3 L577.0,322.1 L578.5,321.1 L580.1,319.9 L581.7,318.8 L583.3,317.6 L584.8,316.3 L586.4,314.8 L588.0,313.3 L589.5,311.8 L591.1,310.2 L592.7,308.6 L594.2,307.1 L595.8,305.6 L597.4,304.1 L599.0,302.7 L600.5,301.2 L602.1,299.7 L603.7,298.5 L605.2,297.2 L606.8,296.1 L608.4,295.1 L609.9,294.0 L611.5,293.0 L613.1,292.0 L614.7,290.9 L616.2,289.7 L617.8,288.4 L619.4,287.1 L620.9,285.8 L622.5,284.6 L624.1,283.4 L625.6,282.1 L627.2,280.8 L628.8,279.5 L630.4,278.2 L631.9,276.8 L633.5,275.4 L635.1,274.0 L636.6,272.7 L638.2,271.4 L639.8,270.1 L641.3,268.8 L642.9,267.4 L644.5,266.0 L646.1,264.4 L647.6,262.9 L649.2,261.3 L650.8,259.8 L652.3,258.1 L653.9,256.7 L655.5,255.1 L657.0,253.5 L658.6,251.8 L660.2,250.1 L661.7,248.3 L663.3,246.7 L664.9,245.2 L666.5,243.6 L668.0,242.0 L669.6,240.4 L671.2,238.9 L672.7,237.5 L674.3,236.1 L675.9,234.7 L677.4,233.2 L679.0,231.6 L680.6,230.0 L682.2,228.5 L683.7,226.9 L685.3,225.4 L686.9,223.9 L688.4,222.3 L690.0,220.9 L691.6,219.5 L693.1,218.1 L694.7,216.7 L696.3,215.3 L697.9,214.0 L699.4,212.8 L701.0,211.6 L702.6,210.5 L704.1,209.3 L705.7,208.1 L707.3,206.8 L708.8,205.5 L710.4,204.0 L712.0,202.9 L713.6,201.8 L715.1,200.8 L716.7,199.7 L718.3,198.6 L719.8,197.6 L721.4,196.7 L723.0,195.8 L724.5,195.0 L726.1,194.3 L727.7,193.5 L729.2,192.6 L730.8,191.6 L732.4,190.7 L734.0,189.8 L735.5,188.9 L737.1,188.1 L738.7,187.2 L740.2,186.2 L741.8,185.1 L743.4,184.2 L744.9,183.4 L746.5,182.6 L748.1,181.9 L749.7,181.1 L751.2,180.3 L752.8,179.5 L754.4,178.6 L755.9,177.7 L757.5,176.6 L759.1,175.5 L760.6,174.5 L762.2,173.9 L763.8,173.1 L765.4,172.5 L766.9,171.8 L768.5,171.2 L770.1,170.7 L771.6,170.0 L773.2,169.3 L774.8,168.4 L776.3,167.4 L777.9,166.5 L779.5,165.5 L781.1,164.6 L782.6,163.8 L784.2,162.8 L785.8,161.9 L787.3,160.9 L788.9,159.9 L790.5,159.0 L792.0,158.3 L793.6,157.7 L795.2,156.9 L796.8,156.4 L798.3,155.7 L799.9,155.3 L801.5,154.8 L803.0,154.4 L804.6,154.1 L806.2,153.8" stroke="#8c1616" stroke-width="1.0" fill="none" stroke-linejoin="round"/>
<line x1="215" x2="785.6" y1="59.5" y2="59.5" stroke="#000" stroke-width="1.15"/>
<text x="215.2" y="57.8" fill="#1c1c1c" stroke="#1c1c1c" xml:space="preserve">153.13  (0.0%)</text>
<line x1="215" x2="785.6" y1="104.5" y2="104.5" stroke="#000" stroke-width="1.15"/>
<text x="215.2" y="102.8" fill="#1c1c1c" stroke="#1c1c1c" xml:space="preserve">140.70  (23.6%)</text>
<line x1="215" x2="785.6" y1="132.5" y2="132.5" stroke="#000" stroke-width="1.15"/>
<text x="215.2" y="130.8" fill="#1c1c1c" stroke="#1c1c1c" xml:space="preserve">133.01  (38.2%)</text>
<line x1="215" x2="785.6" y1="155.5" y2="155.5" stroke="#000" stroke-width="1.15"/>
<text x="215.2" y="153.8" fill="#1c1c1c" stroke="#1c1c1c" xml:space="preserve">126.80  (50.0%)</text>
<line x1="215" x2="785.6" y1="178.5" y2="178.5" stroke="#000" stroke-width="1.15"/>
<text x="215.2" y="176.8" fill="#1c1c1c" stroke="#1c1c1c" xml:space="preserve">120.59  (61.8%)</text>
<line x1="215" x2="785.6" y1="210.5" y2="210.5" stroke="#000" stroke-width="1.15"/>
<text x="215.2" y="208.8" fill="#1c1c1c" stroke="#1c1c1c" xml:space="preserve">111.74  (78.6%)</text>
<line x1="215" x2="785.6" y1="251.5" y2="251.5" stroke="#000" stroke-width="1.15"/>
<text x="215.2" y="249.8" fill="#1c1c1c" stroke="#1c1c1c" xml:space="preserve">100.47  (100.0%)</text>
<line x1="215" x2="785.6" y1="370.5" y2="370.5" stroke="#000" stroke-width="1.15"/>
<text x="215.2" y="368.8" fill="#1c1c1c" stroke="#1c1c1c" xml:space="preserve">67.92  (161.8%)</text>
<line x1="47" x2="811" y1="271.6" y2="271.6" stroke="#168a16" stroke-width="1.35"/>
<text x="52.3" y="269.1" fill="#168a16" stroke="#168a16">95.00</text>
<line x1="720" y1="133.5" x2="737.3" y2="246" stroke="#000" stroke-width="1.2"/>
<polygon points="738.4,253.5 733.2,244.8 742.8,243.6" fill="#000"/>
<text x="14.5" y="12.7" fill="#777" stroke="#777">NVIDIA CORPORATION - abcbourse.com</text>
<text x="811" y="12.7" fill="#777" stroke="#777" text-anchor="end">2 ANS - JOUR</text>
<text x="19.6" y="33.6" fill="#333" stroke="#333">BOLL (20, 2)</text>
<text x="103.4" y="33.6" fill="#3568ff" stroke="#3568ff">MM (20)</text>
<text x="162.3" y="33.6" fill="#ff1e1e" stroke="#ff1e1e">MM (50)</text>
<text x="222.5" y="33.6" fill="#1a8f1a" stroke="#1a8f1a">MM (7)</text>
<text x="275.5" y="33.6" fill="#ff7d1a" stroke="#ff7d1a">MM (100)</text>
<text x="341.5" y="33.6" fill="#8c1616" stroke="#8c1616">MM (200)</text>
<text x="816.2" y="473.8" fill="#666" stroke="#666">40.00</text>
<text x="816.2" y="400.8" fill="#666" stroke="#666">60.00</text>
<text x="816.2" y="327.8" fill="#666" stroke="#666">80.00</text>
<text x="816.2" y="254.8" fill="#666" stroke="#666">100.00</text>
<text x="816.2" y="181.8" fill="#666" stroke="#666">120.00</text>
<text x="816.2" y="108.8" fill="#666" stroke="#666">140.00</text>
<text x="816.2" y="35.8" fill="#666" stroke="#666">160.00</text>
<text x="81.0" y="573" fill="#666" stroke="#666">05/2023</text>
<text x="159.4" y="573" fill="#666" stroke="#666">08/2023</text>
<text x="237.9" y="573" fill="#666" stroke="#666">10/2023</text>
<text x="316.4" y="573" fill="#666" stroke="#666">12/2023</text>
<text x="394.8" y="573" fill="#666" stroke="#666">03/2024</text>
<text x="473.2" y="573" fill="#666" stroke="#666">05/2024</text>
<text x="551.7" y="573" fill="#666" stroke="#666">07/2024</text>
<text x="630.1" y="573" fill="#666" stroke="#666">10/2024</text>
<text x="708.6" y="573" fill="#666" stroke="#666">12/2024</text>
<text x="787.1" y="573" fill="#666" stroke="#666">03/2025</text>
<rect x="813" y="52.2" width="47" height="16.6" fill="#0b7a0b"/>
<text x="816.8" y="64.4" fill="#fff" stroke="#fff" stroke-width="0" font-weight="bold" font-size="11.7">153.13</text>
<rect x="813" y="216.1" width="47" height="16.6" fill="#5f5f5f"/>
<text x="816.8" y="228.3" fill="#fff" stroke="#fff" stroke-width="0" font-weight="bold" font-size="11.7">108.23</text>
<rect x="813" y="529.9" width="47" height="16.6" fill="#c00000"/>
<text x="816.8" y="542.1" fill="#fff" stroke="#fff" stroke-width="0" font-weight="bold" font-size="11.7">22.300</text>
</svg>
</body></html>
